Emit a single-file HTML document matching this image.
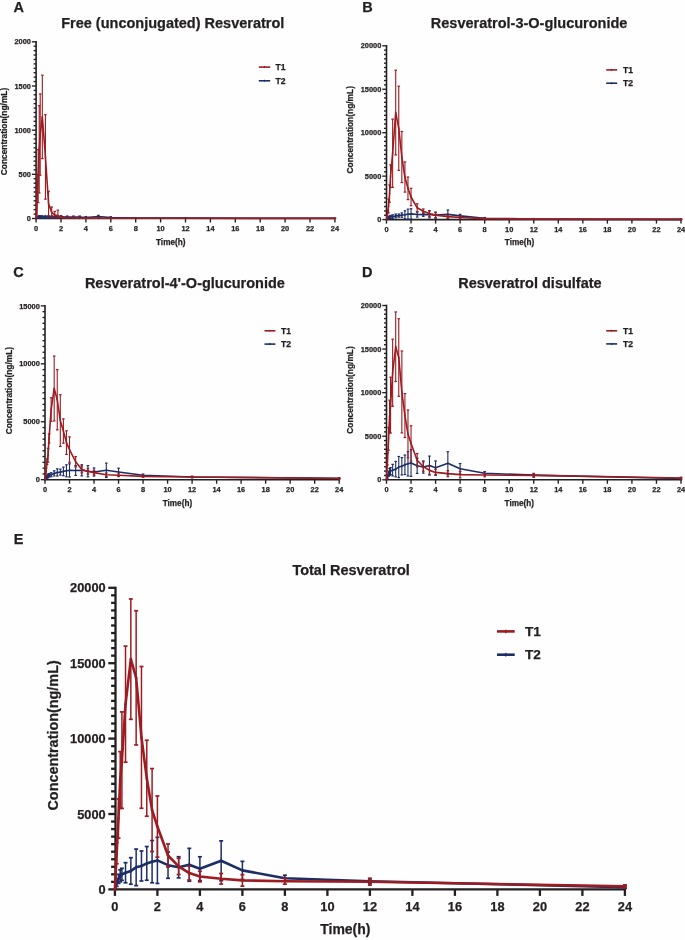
<!DOCTYPE html>
<html><head><meta charset="utf-8"><style>
html,body{margin:0;padding:0;background:#fefefe;}
svg{display:block;will-change:transform;filter:blur(0.35px);}
text{font-family:"Liberation Sans",sans-serif;font-weight:bold;fill:#231f20;stroke:#231f20;stroke-width:0.25px;}
</style></head><body>
<svg width="685" height="940" viewBox="0 0 685 940">
<line x1="36.10" y1="41.00" x2="36.10" y2="219.30" stroke="#231f20" stroke-width="1.6"/>
<line x1="35.30" y1="218.50" x2="335.70" y2="218.50" stroke="#231f20" stroke-width="1.6"/>
<line x1="31.90" y1="218.50" x2="36.10" y2="218.50" stroke="#231f20" stroke-width="1.35"/>
<text x="30.90" y="221.10" text-anchor="end" font-size="7.4">0</text>
<line x1="33.60" y1="214.08" x2="36.10" y2="214.08" stroke="#231f20" stroke-width="1.35"/>
<line x1="33.60" y1="209.66" x2="36.10" y2="209.66" stroke="#231f20" stroke-width="1.35"/>
<line x1="33.60" y1="205.25" x2="36.10" y2="205.25" stroke="#231f20" stroke-width="1.35"/>
<line x1="33.60" y1="200.83" x2="36.10" y2="200.83" stroke="#231f20" stroke-width="1.35"/>
<line x1="33.60" y1="196.41" x2="36.10" y2="196.41" stroke="#231f20" stroke-width="1.35"/>
<line x1="33.60" y1="192.00" x2="36.10" y2="192.00" stroke="#231f20" stroke-width="1.35"/>
<line x1="33.60" y1="187.58" x2="36.10" y2="187.58" stroke="#231f20" stroke-width="1.35"/>
<line x1="33.60" y1="183.16" x2="36.10" y2="183.16" stroke="#231f20" stroke-width="1.35"/>
<line x1="33.60" y1="178.74" x2="36.10" y2="178.74" stroke="#231f20" stroke-width="1.35"/>
<line x1="31.90" y1="174.32" x2="36.10" y2="174.32" stroke="#231f20" stroke-width="1.35"/>
<text x="30.90" y="176.92" text-anchor="end" font-size="7.4">500</text>
<line x1="33.60" y1="169.91" x2="36.10" y2="169.91" stroke="#231f20" stroke-width="1.35"/>
<line x1="33.60" y1="165.49" x2="36.10" y2="165.49" stroke="#231f20" stroke-width="1.35"/>
<line x1="33.60" y1="161.07" x2="36.10" y2="161.07" stroke="#231f20" stroke-width="1.35"/>
<line x1="33.60" y1="156.66" x2="36.10" y2="156.66" stroke="#231f20" stroke-width="1.35"/>
<line x1="33.60" y1="152.24" x2="36.10" y2="152.24" stroke="#231f20" stroke-width="1.35"/>
<line x1="33.60" y1="147.82" x2="36.10" y2="147.82" stroke="#231f20" stroke-width="1.35"/>
<line x1="33.60" y1="143.40" x2="36.10" y2="143.40" stroke="#231f20" stroke-width="1.35"/>
<line x1="33.60" y1="138.99" x2="36.10" y2="138.99" stroke="#231f20" stroke-width="1.35"/>
<line x1="33.60" y1="134.57" x2="36.10" y2="134.57" stroke="#231f20" stroke-width="1.35"/>
<line x1="31.90" y1="130.15" x2="36.10" y2="130.15" stroke="#231f20" stroke-width="1.35"/>
<text x="30.90" y="132.75" text-anchor="end" font-size="7.4">1000</text>
<line x1="33.60" y1="125.73" x2="36.10" y2="125.73" stroke="#231f20" stroke-width="1.35"/>
<line x1="33.60" y1="121.31" x2="36.10" y2="121.31" stroke="#231f20" stroke-width="1.35"/>
<line x1="33.60" y1="116.90" x2="36.10" y2="116.90" stroke="#231f20" stroke-width="1.35"/>
<line x1="33.60" y1="112.48" x2="36.10" y2="112.48" stroke="#231f20" stroke-width="1.35"/>
<line x1="33.60" y1="108.06" x2="36.10" y2="108.06" stroke="#231f20" stroke-width="1.35"/>
<line x1="33.60" y1="103.64" x2="36.10" y2="103.64" stroke="#231f20" stroke-width="1.35"/>
<line x1="33.60" y1="99.23" x2="36.10" y2="99.23" stroke="#231f20" stroke-width="1.35"/>
<line x1="33.60" y1="94.81" x2="36.10" y2="94.81" stroke="#231f20" stroke-width="1.35"/>
<line x1="33.60" y1="90.39" x2="36.10" y2="90.39" stroke="#231f20" stroke-width="1.35"/>
<line x1="31.90" y1="85.97" x2="36.10" y2="85.97" stroke="#231f20" stroke-width="1.35"/>
<text x="30.90" y="88.57" text-anchor="end" font-size="7.4">1500</text>
<line x1="33.60" y1="81.56" x2="36.10" y2="81.56" stroke="#231f20" stroke-width="1.35"/>
<line x1="33.60" y1="77.14" x2="36.10" y2="77.14" stroke="#231f20" stroke-width="1.35"/>
<line x1="33.60" y1="72.72" x2="36.10" y2="72.72" stroke="#231f20" stroke-width="1.35"/>
<line x1="33.60" y1="68.31" x2="36.10" y2="68.31" stroke="#231f20" stroke-width="1.35"/>
<line x1="33.60" y1="63.89" x2="36.10" y2="63.89" stroke="#231f20" stroke-width="1.35"/>
<line x1="33.60" y1="59.47" x2="36.10" y2="59.47" stroke="#231f20" stroke-width="1.35"/>
<line x1="33.60" y1="55.05" x2="36.10" y2="55.05" stroke="#231f20" stroke-width="1.35"/>
<line x1="33.60" y1="50.63" x2="36.10" y2="50.63" stroke="#231f20" stroke-width="1.35"/>
<line x1="33.60" y1="46.22" x2="36.10" y2="46.22" stroke="#231f20" stroke-width="1.35"/>
<line x1="31.90" y1="41.80" x2="36.10" y2="41.80" stroke="#231f20" stroke-width="1.35"/>
<text x="30.90" y="44.40" text-anchor="end" font-size="7.4">2000</text>
<line x1="36.10" y1="218.50" x2="36.10" y2="222.50" stroke="#231f20" stroke-width="1.35"/>
<text x="36.10" y="231.10" text-anchor="middle" font-size="7.4">0</text>
<line x1="61.00" y1="218.50" x2="61.00" y2="222.50" stroke="#231f20" stroke-width="1.35"/>
<text x="61.00" y="231.10" text-anchor="middle" font-size="7.4">2</text>
<line x1="85.90" y1="218.50" x2="85.90" y2="222.50" stroke="#231f20" stroke-width="1.35"/>
<text x="85.90" y="231.10" text-anchor="middle" font-size="7.4">4</text>
<line x1="110.80" y1="218.50" x2="110.80" y2="222.50" stroke="#231f20" stroke-width="1.35"/>
<text x="110.80" y="231.10" text-anchor="middle" font-size="7.4">6</text>
<line x1="135.70" y1="218.50" x2="135.70" y2="222.50" stroke="#231f20" stroke-width="1.35"/>
<text x="135.70" y="231.10" text-anchor="middle" font-size="7.4">8</text>
<line x1="160.60" y1="218.50" x2="160.60" y2="222.50" stroke="#231f20" stroke-width="1.35"/>
<text x="160.60" y="231.10" text-anchor="middle" font-size="7.4">10</text>
<line x1="185.50" y1="218.50" x2="185.50" y2="222.50" stroke="#231f20" stroke-width="1.35"/>
<text x="185.50" y="231.10" text-anchor="middle" font-size="7.4">12</text>
<line x1="210.40" y1="218.50" x2="210.40" y2="222.50" stroke="#231f20" stroke-width="1.35"/>
<text x="210.40" y="231.10" text-anchor="middle" font-size="7.4">14</text>
<line x1="235.30" y1="218.50" x2="235.30" y2="222.50" stroke="#231f20" stroke-width="1.35"/>
<text x="235.30" y="231.10" text-anchor="middle" font-size="7.4">16</text>
<line x1="260.20" y1="218.50" x2="260.20" y2="222.50" stroke="#231f20" stroke-width="1.35"/>
<text x="260.20" y="231.10" text-anchor="middle" font-size="7.4">18</text>
<line x1="285.10" y1="218.50" x2="285.10" y2="222.50" stroke="#231f20" stroke-width="1.35"/>
<text x="285.10" y="231.10" text-anchor="middle" font-size="7.4">20</text>
<line x1="310.00" y1="218.50" x2="310.00" y2="222.50" stroke="#231f20" stroke-width="1.35"/>
<text x="310.00" y="231.10" text-anchor="middle" font-size="7.4">22</text>
<line x1="334.90" y1="218.50" x2="334.90" y2="222.50" stroke="#231f20" stroke-width="1.35"/>
<text x="334.90" y="231.10" text-anchor="middle" font-size="7.4">24</text>
<line x1="37.13" y1="216.91" x2="37.13" y2="218.32" stroke="#1d2d66" stroke-width="1.1"/>
<line x1="35.83" y1="216.91" x2="38.43" y2="216.91" stroke="#1d2d66" stroke-width="1.2"/>
<line x1="35.83" y1="218.32" x2="38.43" y2="218.32" stroke="#1d2d66" stroke-width="1.2"/>
<line x1="38.18" y1="216.29" x2="38.18" y2="218.06" stroke="#1d2d66" stroke-width="1.1"/>
<line x1="36.88" y1="216.29" x2="39.48" y2="216.29" stroke="#1d2d66" stroke-width="1.2"/>
<line x1="36.88" y1="218.06" x2="39.48" y2="218.06" stroke="#1d2d66" stroke-width="1.2"/>
<line x1="39.21" y1="215.76" x2="39.21" y2="218.06" stroke="#1d2d66" stroke-width="1.1"/>
<line x1="37.91" y1="215.76" x2="40.51" y2="215.76" stroke="#1d2d66" stroke-width="1.2"/>
<line x1="37.91" y1="218.06" x2="40.51" y2="218.06" stroke="#1d2d66" stroke-width="1.2"/>
<line x1="40.21" y1="215.76" x2="40.21" y2="218.06" stroke="#1d2d66" stroke-width="1.1"/>
<line x1="38.91" y1="215.76" x2="41.51" y2="215.76" stroke="#1d2d66" stroke-width="1.2"/>
<line x1="38.91" y1="218.06" x2="41.51" y2="218.06" stroke="#1d2d66" stroke-width="1.2"/>
<line x1="42.33" y1="215.76" x2="42.33" y2="218.06" stroke="#1d2d66" stroke-width="1.1"/>
<line x1="41.03" y1="215.76" x2="43.62" y2="215.76" stroke="#1d2d66" stroke-width="1.2"/>
<line x1="41.03" y1="218.06" x2="43.62" y2="218.06" stroke="#1d2d66" stroke-width="1.2"/>
<line x1="45.44" y1="215.76" x2="45.44" y2="218.06" stroke="#1d2d66" stroke-width="1.1"/>
<line x1="44.14" y1="215.76" x2="46.74" y2="215.76" stroke="#1d2d66" stroke-width="1.2"/>
<line x1="44.14" y1="218.06" x2="46.74" y2="218.06" stroke="#1d2d66" stroke-width="1.2"/>
<line x1="48.55" y1="215.76" x2="48.55" y2="218.06" stroke="#1d2d66" stroke-width="1.1"/>
<line x1="47.25" y1="215.76" x2="49.85" y2="215.76" stroke="#1d2d66" stroke-width="1.2"/>
<line x1="47.25" y1="218.06" x2="49.85" y2="218.06" stroke="#1d2d66" stroke-width="1.2"/>
<line x1="51.66" y1="215.76" x2="51.66" y2="218.06" stroke="#1d2d66" stroke-width="1.1"/>
<line x1="50.36" y1="215.76" x2="52.96" y2="215.76" stroke="#1d2d66" stroke-width="1.2"/>
<line x1="50.36" y1="218.06" x2="52.96" y2="218.06" stroke="#1d2d66" stroke-width="1.2"/>
<line x1="54.77" y1="215.76" x2="54.77" y2="218.06" stroke="#1d2d66" stroke-width="1.1"/>
<line x1="53.48" y1="215.76" x2="56.07" y2="215.76" stroke="#1d2d66" stroke-width="1.2"/>
<line x1="53.48" y1="218.06" x2="56.07" y2="218.06" stroke="#1d2d66" stroke-width="1.2"/>
<line x1="57.89" y1="215.76" x2="57.89" y2="218.06" stroke="#1d2d66" stroke-width="1.1"/>
<line x1="56.59" y1="215.76" x2="59.19" y2="215.76" stroke="#1d2d66" stroke-width="1.2"/>
<line x1="56.59" y1="218.06" x2="59.19" y2="218.06" stroke="#1d2d66" stroke-width="1.2"/>
<line x1="61.00" y1="215.76" x2="61.00" y2="218.06" stroke="#1d2d66" stroke-width="1.1"/>
<line x1="59.70" y1="215.76" x2="62.30" y2="215.76" stroke="#1d2d66" stroke-width="1.2"/>
<line x1="59.70" y1="218.06" x2="62.30" y2="218.06" stroke="#1d2d66" stroke-width="1.2"/>
<line x1="67.22" y1="216.03" x2="67.22" y2="218.15" stroke="#1d2d66" stroke-width="1.1"/>
<line x1="65.92" y1="216.03" x2="68.52" y2="216.03" stroke="#1d2d66" stroke-width="1.2"/>
<line x1="65.92" y1="218.15" x2="68.52" y2="218.15" stroke="#1d2d66" stroke-width="1.2"/>
<line x1="73.45" y1="216.03" x2="73.45" y2="218.15" stroke="#1d2d66" stroke-width="1.1"/>
<line x1="72.15" y1="216.03" x2="74.75" y2="216.03" stroke="#1d2d66" stroke-width="1.2"/>
<line x1="72.15" y1="218.15" x2="74.75" y2="218.15" stroke="#1d2d66" stroke-width="1.2"/>
<line x1="79.67" y1="216.03" x2="79.67" y2="218.15" stroke="#1d2d66" stroke-width="1.1"/>
<line x1="78.37" y1="216.03" x2="80.97" y2="216.03" stroke="#1d2d66" stroke-width="1.2"/>
<line x1="78.37" y1="218.15" x2="80.97" y2="218.15" stroke="#1d2d66" stroke-width="1.2"/>
<line x1="85.90" y1="216.56" x2="85.90" y2="218.32" stroke="#1d2d66" stroke-width="1.1"/>
<line x1="84.60" y1="216.56" x2="87.20" y2="216.56" stroke="#1d2d66" stroke-width="1.2"/>
<line x1="84.60" y1="218.32" x2="87.20" y2="218.32" stroke="#1d2d66" stroke-width="1.2"/>
<line x1="98.35" y1="215.32" x2="98.35" y2="217.79" stroke="#1d2d66" stroke-width="1.1"/>
<line x1="97.05" y1="215.32" x2="99.65" y2="215.32" stroke="#1d2d66" stroke-width="1.2"/>
<line x1="97.05" y1="217.79" x2="99.65" y2="217.79" stroke="#1d2d66" stroke-width="1.2"/>
<line x1="110.80" y1="216.73" x2="110.80" y2="218.15" stroke="#1d2d66" stroke-width="1.1"/>
<line x1="109.50" y1="216.73" x2="112.10" y2="216.73" stroke="#1d2d66" stroke-width="1.2"/>
<line x1="109.50" y1="218.15" x2="112.10" y2="218.15" stroke="#1d2d66" stroke-width="1.2"/>
<line x1="135.70" y1="217.62" x2="135.70" y2="218.32" stroke="#1d2d66" stroke-width="1.1"/>
<line x1="134.40" y1="217.62" x2="137.00" y2="217.62" stroke="#1d2d66" stroke-width="1.2"/>
<line x1="134.40" y1="218.32" x2="137.00" y2="218.32" stroke="#1d2d66" stroke-width="1.2"/>
<line x1="185.50" y1="217.88" x2="185.50" y2="218.41" stroke="#1d2d66" stroke-width="1.1"/>
<line x1="184.20" y1="217.88" x2="186.80" y2="217.88" stroke="#1d2d66" stroke-width="1.2"/>
<line x1="184.20" y1="218.41" x2="186.80" y2="218.41" stroke="#1d2d66" stroke-width="1.2"/>
<line x1="334.90" y1="218.15" x2="334.90" y2="218.50" stroke="#1d2d66" stroke-width="1.1"/>
<line x1="333.60" y1="218.15" x2="336.20" y2="218.15" stroke="#1d2d66" stroke-width="1.2"/>
<polyline points="36.10,218.50 37.13,217.62 38.18,217.17 39.21,216.91 40.21,216.91 42.33,216.91 45.44,216.91 48.55,216.91 51.66,216.91 54.77,216.91 57.89,216.91 61.00,216.91 67.22,217.09 73.45,217.09 79.67,217.09 85.90,217.44 98.35,216.56 110.80,217.44 135.70,217.97 185.50,218.15 334.90,218.32" fill="none" stroke="#1d2d66" stroke-width="1.6" stroke-linejoin="round"/>
<path d="M36.10,217.24L36.98,218.50L36.10,219.76L35.22,218.50Z" fill="#1d2d66"/>
<path d="M37.13,216.35L38.01,217.62L37.13,218.88L36.25,217.62Z" fill="#1d2d66"/>
<path d="M38.18,215.91L39.06,217.17L38.18,218.44L37.30,217.17Z" fill="#1d2d66"/>
<path d="M39.21,215.64L40.09,216.91L39.21,218.17L38.33,216.91Z" fill="#1d2d66"/>
<path d="M40.21,215.64L41.09,216.91L40.21,218.17L39.33,216.91Z" fill="#1d2d66"/>
<path d="M42.33,215.64L43.21,216.91L42.33,218.17L41.45,216.91Z" fill="#1d2d66"/>
<path d="M45.44,215.64L46.32,216.91L45.44,218.17L44.56,216.91Z" fill="#1d2d66"/>
<path d="M48.55,215.64L49.43,216.91L48.55,218.17L47.67,216.91Z" fill="#1d2d66"/>
<path d="M51.66,215.64L52.54,216.91L51.66,218.17L50.78,216.91Z" fill="#1d2d66"/>
<path d="M54.77,215.64L55.66,216.91L54.77,218.17L53.89,216.91Z" fill="#1d2d66"/>
<path d="M57.89,215.64L58.77,216.91L57.89,218.17L57.01,216.91Z" fill="#1d2d66"/>
<path d="M61.00,215.64L61.88,216.91L61.00,218.17L60.12,216.91Z" fill="#1d2d66"/>
<path d="M67.22,215.82L68.10,217.09L67.22,218.35L66.34,217.09Z" fill="#1d2d66"/>
<path d="M73.45,215.82L74.33,217.09L73.45,218.35L72.57,217.09Z" fill="#1d2d66"/>
<path d="M79.67,215.82L80.55,217.09L79.67,218.35L78.79,217.09Z" fill="#1d2d66"/>
<path d="M85.90,216.17L86.78,217.44L85.90,218.70L85.02,217.44Z" fill="#1d2d66"/>
<path d="M98.35,215.29L99.23,216.56L98.35,217.82L97.47,216.56Z" fill="#1d2d66"/>
<path d="M110.80,216.17L111.68,217.44L110.80,218.70L109.92,217.44Z" fill="#1d2d66"/>
<path d="M135.70,216.70L136.58,217.97L135.70,219.23L134.82,217.97Z" fill="#1d2d66"/>
<path d="M185.50,216.88L186.38,218.15L185.50,219.41L184.62,218.15Z" fill="#1d2d66"/>
<path d="M334.90,217.06L335.78,218.32L334.90,219.59L334.02,218.32Z" fill="#1d2d66"/>
<line x1="37.13" y1="174.32" x2="37.13" y2="218.50" stroke="#9c1c22" stroke-width="1.1"/>
<line x1="35.83" y1="174.32" x2="38.43" y2="174.32" stroke="#9c1c22" stroke-width="1.2"/>
<line x1="38.18" y1="149.59" x2="38.18" y2="202.60" stroke="#9c1c22" stroke-width="1.1"/>
<line x1="36.88" y1="149.59" x2="39.48" y2="149.59" stroke="#9c1c22" stroke-width="1.2"/>
<line x1="36.88" y1="202.60" x2="39.48" y2="202.60" stroke="#9c1c22" stroke-width="1.2"/>
<line x1="39.21" y1="105.68" x2="39.21" y2="192.97" stroke="#9c1c22" stroke-width="1.1"/>
<line x1="37.91" y1="105.68" x2="40.51" y2="105.68" stroke="#9c1c22" stroke-width="1.2"/>
<line x1="37.91" y1="192.97" x2="40.51" y2="192.97" stroke="#9c1c22" stroke-width="1.2"/>
<line x1="40.21" y1="93.93" x2="40.21" y2="175.21" stroke="#9c1c22" stroke-width="1.1"/>
<line x1="38.91" y1="93.93" x2="41.51" y2="93.93" stroke="#9c1c22" stroke-width="1.2"/>
<line x1="38.91" y1="175.21" x2="41.51" y2="175.21" stroke="#9c1c22" stroke-width="1.2"/>
<line x1="42.33" y1="75.20" x2="42.33" y2="158.60" stroke="#9c1c22" stroke-width="1.1"/>
<line x1="41.03" y1="75.20" x2="43.62" y2="75.20" stroke="#9c1c22" stroke-width="1.2"/>
<line x1="41.03" y1="158.60" x2="43.62" y2="158.60" stroke="#9c1c22" stroke-width="1.2"/>
<line x1="45.44" y1="114.69" x2="45.44" y2="199.15" stroke="#9c1c22" stroke-width="1.1"/>
<line x1="44.14" y1="114.69" x2="46.74" y2="114.69" stroke="#9c1c22" stroke-width="1.2"/>
<line x1="44.14" y1="199.15" x2="46.74" y2="199.15" stroke="#9c1c22" stroke-width="1.2"/>
<line x1="48.55" y1="191.29" x2="48.55" y2="216.03" stroke="#9c1c22" stroke-width="1.1"/>
<line x1="47.25" y1="191.29" x2="49.85" y2="191.29" stroke="#9c1c22" stroke-width="1.2"/>
<line x1="47.25" y1="216.03" x2="49.85" y2="216.03" stroke="#9c1c22" stroke-width="1.2"/>
<line x1="51.66" y1="207.01" x2="51.66" y2="217.62" stroke="#9c1c22" stroke-width="1.1"/>
<line x1="50.36" y1="207.01" x2="52.96" y2="207.01" stroke="#9c1c22" stroke-width="1.2"/>
<line x1="50.36" y1="217.62" x2="52.96" y2="217.62" stroke="#9c1c22" stroke-width="1.2"/>
<line x1="54.77" y1="211.43" x2="54.77" y2="218.50" stroke="#9c1c22" stroke-width="1.1"/>
<line x1="53.48" y1="211.43" x2="56.07" y2="211.43" stroke="#9c1c22" stroke-width="1.2"/>
<line x1="57.89" y1="210.11" x2="57.89" y2="218.50" stroke="#9c1c22" stroke-width="1.1"/>
<line x1="56.59" y1="210.11" x2="59.19" y2="210.11" stroke="#9c1c22" stroke-width="1.2"/>
<line x1="61.00" y1="215.85" x2="61.00" y2="218.50" stroke="#9c1c22" stroke-width="1.1"/>
<line x1="59.70" y1="215.85" x2="62.30" y2="215.85" stroke="#9c1c22" stroke-width="1.2"/>
<line x1="67.22" y1="217.44" x2="67.22" y2="218.50" stroke="#9c1c22" stroke-width="1.1"/>
<line x1="65.92" y1="217.44" x2="68.52" y2="217.44" stroke="#9c1c22" stroke-width="1.2"/>
<line x1="73.45" y1="217.62" x2="73.45" y2="218.50" stroke="#9c1c22" stroke-width="1.1"/>
<line x1="72.15" y1="217.62" x2="74.75" y2="217.62" stroke="#9c1c22" stroke-width="1.2"/>
<line x1="79.67" y1="217.79" x2="79.67" y2="218.50" stroke="#9c1c22" stroke-width="1.1"/>
<line x1="78.37" y1="217.79" x2="80.97" y2="217.79" stroke="#9c1c22" stroke-width="1.2"/>
<line x1="85.90" y1="217.79" x2="85.90" y2="218.50" stroke="#9c1c22" stroke-width="1.1"/>
<line x1="84.60" y1="217.79" x2="87.20" y2="217.79" stroke="#9c1c22" stroke-width="1.2"/>
<line x1="98.35" y1="217.79" x2="98.35" y2="218.50" stroke="#9c1c22" stroke-width="1.1"/>
<line x1="97.05" y1="217.79" x2="99.65" y2="217.79" stroke="#9c1c22" stroke-width="1.2"/>
<line x1="110.80" y1="217.97" x2="110.80" y2="218.50" stroke="#9c1c22" stroke-width="1.1"/>
<line x1="109.50" y1="217.97" x2="112.10" y2="217.97" stroke="#9c1c22" stroke-width="1.2"/>
<line x1="135.70" y1="218.15" x2="135.70" y2="218.50" stroke="#9c1c22" stroke-width="1.1"/>
<line x1="134.40" y1="218.15" x2="137.00" y2="218.15" stroke="#9c1c22" stroke-width="1.2"/>
<line x1="185.50" y1="218.15" x2="185.50" y2="218.50" stroke="#9c1c22" stroke-width="1.1"/>
<line x1="184.20" y1="218.15" x2="186.80" y2="218.15" stroke="#9c1c22" stroke-width="1.2"/>
<line x1="334.90" y1="218.32" x2="334.90" y2="218.50" stroke="#9c1c22" stroke-width="1.1"/>
<line x1="333.60" y1="218.32" x2="336.20" y2="218.32" stroke="#9c1c22" stroke-width="1.2"/>
<polyline points="36.10,218.50 37.13,196.41 38.18,176.09 39.21,149.32 40.21,134.57 42.33,116.90 45.44,156.92 48.55,203.66 51.66,212.32 54.77,214.97 57.89,215.85 61.00,217.62 67.22,217.97 73.45,218.06 79.67,218.15 85.90,218.15 98.35,218.15 110.80,218.23 135.70,218.32 185.50,218.32 334.90,218.41" fill="none" stroke="#9c1c22" stroke-width="1.6" stroke-linejoin="round"/>
<path d="M36.10,217.24L36.98,218.50L36.10,219.76L35.22,218.50Z" fill="#9c1c22"/>
<path d="M37.13,195.15L38.01,196.41L37.13,197.68L36.25,196.41Z" fill="#9c1c22"/>
<path d="M38.18,174.83L39.06,176.09L38.18,177.36L37.30,176.09Z" fill="#9c1c22"/>
<path d="M39.21,148.06L40.09,149.32L39.21,150.59L38.33,149.32Z" fill="#9c1c22"/>
<path d="M40.21,133.30L41.09,134.57L40.21,135.83L39.33,134.57Z" fill="#9c1c22"/>
<path d="M42.33,115.63L43.21,116.90L42.33,118.16L41.45,116.90Z" fill="#9c1c22"/>
<path d="M45.44,155.66L46.32,156.92L45.44,158.19L44.56,156.92Z" fill="#9c1c22"/>
<path d="M48.55,202.39L49.43,203.66L48.55,204.92L47.67,203.66Z" fill="#9c1c22"/>
<path d="M51.66,211.05L52.54,212.32L51.66,213.58L50.78,212.32Z" fill="#9c1c22"/>
<path d="M54.77,213.70L55.66,214.97L54.77,216.23L53.89,214.97Z" fill="#9c1c22"/>
<path d="M57.89,214.58L58.77,215.85L57.89,217.11L57.01,215.85Z" fill="#9c1c22"/>
<path d="M61.00,216.35L61.88,217.62L61.00,218.88L60.12,217.62Z" fill="#9c1c22"/>
<path d="M67.22,216.70L68.10,217.97L67.22,219.23L66.34,217.97Z" fill="#9c1c22"/>
<path d="M73.45,216.79L74.33,218.06L73.45,219.32L72.57,218.06Z" fill="#9c1c22"/>
<path d="M79.67,216.88L80.55,218.15L79.67,219.41L78.79,218.15Z" fill="#9c1c22"/>
<path d="M85.90,216.88L86.78,218.15L85.90,219.41L85.02,218.15Z" fill="#9c1c22"/>
<path d="M98.35,216.88L99.23,218.15L98.35,219.41L97.47,218.15Z" fill="#9c1c22"/>
<path d="M110.80,216.97L111.68,218.23L110.80,219.50L109.92,218.23Z" fill="#9c1c22"/>
<path d="M135.70,217.06L136.58,218.32L135.70,219.59L134.82,218.32Z" fill="#9c1c22"/>
<path d="M185.50,217.06L186.38,218.32L185.50,219.59L184.62,218.32Z" fill="#9c1c22"/>
<path d="M334.90,217.15L335.78,218.41L334.90,219.68L334.02,218.41Z" fill="#9c1c22"/>
<line x1="258.8" y1="67.1" x2="270.2" y2="67.1" stroke="#9c1c22" stroke-width="1.6"/>
<path d="M264.50,65.83L265.38,67.10L264.50,68.36L263.62,67.10Z" fill="#9c1c22"/>
<text x="275.5" y="70.2" font-size="8.6">T1</text>
<line x1="258.8" y1="80.8" x2="270.2" y2="80.8" stroke="#1d2d66" stroke-width="1.6"/>
<path d="M264.50,79.53L265.38,80.80L264.50,82.06L263.62,80.80Z" fill="#1d2d66"/>
<text x="275.5" y="84.0" font-size="8.6">T2</text>
<text x="61.2" y="27.8" font-size="14.5">Free (unconjugated) Resveratrol</text>
<text x="13.5" y="12.2" font-size="14.5">A</text>
<text x="156.0" y="244.8" font-size="8.2">Time(h)</text>
<text transform="translate(7.2,131.5) rotate(-90)" text-anchor="middle" font-size="8.4">Concentration(ng/mL)</text>
<line x1="386.50" y1="45.00" x2="386.50" y2="220.40" stroke="#231f20" stroke-width="1.6"/>
<line x1="385.70" y1="219.60" x2="681.80" y2="219.60" stroke="#231f20" stroke-width="1.6"/>
<line x1="382.30" y1="219.60" x2="386.50" y2="219.60" stroke="#231f20" stroke-width="1.35"/>
<text x="381.30" y="222.20" text-anchor="end" font-size="7.4">0</text>
<line x1="384.00" y1="215.25" x2="386.50" y2="215.25" stroke="#231f20" stroke-width="1.35"/>
<line x1="384.00" y1="210.91" x2="386.50" y2="210.91" stroke="#231f20" stroke-width="1.35"/>
<line x1="384.00" y1="206.56" x2="386.50" y2="206.56" stroke="#231f20" stroke-width="1.35"/>
<line x1="384.00" y1="202.22" x2="386.50" y2="202.22" stroke="#231f20" stroke-width="1.35"/>
<line x1="384.00" y1="197.88" x2="386.50" y2="197.88" stroke="#231f20" stroke-width="1.35"/>
<line x1="384.00" y1="193.53" x2="386.50" y2="193.53" stroke="#231f20" stroke-width="1.35"/>
<line x1="384.00" y1="189.19" x2="386.50" y2="189.19" stroke="#231f20" stroke-width="1.35"/>
<line x1="384.00" y1="184.84" x2="386.50" y2="184.84" stroke="#231f20" stroke-width="1.35"/>
<line x1="384.00" y1="180.50" x2="386.50" y2="180.50" stroke="#231f20" stroke-width="1.35"/>
<line x1="382.30" y1="176.15" x2="386.50" y2="176.15" stroke="#231f20" stroke-width="1.35"/>
<text x="381.30" y="178.75" text-anchor="end" font-size="7.4">5000</text>
<line x1="384.00" y1="171.81" x2="386.50" y2="171.81" stroke="#231f20" stroke-width="1.35"/>
<line x1="384.00" y1="167.46" x2="386.50" y2="167.46" stroke="#231f20" stroke-width="1.35"/>
<line x1="384.00" y1="163.12" x2="386.50" y2="163.12" stroke="#231f20" stroke-width="1.35"/>
<line x1="384.00" y1="158.77" x2="386.50" y2="158.77" stroke="#231f20" stroke-width="1.35"/>
<line x1="384.00" y1="154.43" x2="386.50" y2="154.43" stroke="#231f20" stroke-width="1.35"/>
<line x1="384.00" y1="150.08" x2="386.50" y2="150.08" stroke="#231f20" stroke-width="1.35"/>
<line x1="384.00" y1="145.74" x2="386.50" y2="145.74" stroke="#231f20" stroke-width="1.35"/>
<line x1="384.00" y1="141.39" x2="386.50" y2="141.39" stroke="#231f20" stroke-width="1.35"/>
<line x1="384.00" y1="137.05" x2="386.50" y2="137.05" stroke="#231f20" stroke-width="1.35"/>
<line x1="382.30" y1="132.70" x2="386.50" y2="132.70" stroke="#231f20" stroke-width="1.35"/>
<text x="381.30" y="135.30" text-anchor="end" font-size="7.4">10000</text>
<line x1="384.00" y1="128.35" x2="386.50" y2="128.35" stroke="#231f20" stroke-width="1.35"/>
<line x1="384.00" y1="124.01" x2="386.50" y2="124.01" stroke="#231f20" stroke-width="1.35"/>
<line x1="384.00" y1="119.66" x2="386.50" y2="119.66" stroke="#231f20" stroke-width="1.35"/>
<line x1="384.00" y1="115.32" x2="386.50" y2="115.32" stroke="#231f20" stroke-width="1.35"/>
<line x1="384.00" y1="110.97" x2="386.50" y2="110.97" stroke="#231f20" stroke-width="1.35"/>
<line x1="384.00" y1="106.63" x2="386.50" y2="106.63" stroke="#231f20" stroke-width="1.35"/>
<line x1="384.00" y1="102.28" x2="386.50" y2="102.28" stroke="#231f20" stroke-width="1.35"/>
<line x1="384.00" y1="97.94" x2="386.50" y2="97.94" stroke="#231f20" stroke-width="1.35"/>
<line x1="384.00" y1="93.59" x2="386.50" y2="93.59" stroke="#231f20" stroke-width="1.35"/>
<line x1="382.30" y1="89.25" x2="386.50" y2="89.25" stroke="#231f20" stroke-width="1.35"/>
<text x="381.30" y="91.85" text-anchor="end" font-size="7.4">15000</text>
<line x1="384.00" y1="84.91" x2="386.50" y2="84.91" stroke="#231f20" stroke-width="1.35"/>
<line x1="384.00" y1="80.56" x2="386.50" y2="80.56" stroke="#231f20" stroke-width="1.35"/>
<line x1="384.00" y1="76.22" x2="386.50" y2="76.22" stroke="#231f20" stroke-width="1.35"/>
<line x1="384.00" y1="71.87" x2="386.50" y2="71.87" stroke="#231f20" stroke-width="1.35"/>
<line x1="384.00" y1="67.53" x2="386.50" y2="67.53" stroke="#231f20" stroke-width="1.35"/>
<line x1="384.00" y1="63.18" x2="386.50" y2="63.18" stroke="#231f20" stroke-width="1.35"/>
<line x1="384.00" y1="58.84" x2="386.50" y2="58.84" stroke="#231f20" stroke-width="1.35"/>
<line x1="384.00" y1="54.49" x2="386.50" y2="54.49" stroke="#231f20" stroke-width="1.35"/>
<line x1="384.00" y1="50.15" x2="386.50" y2="50.15" stroke="#231f20" stroke-width="1.35"/>
<line x1="382.30" y1="45.80" x2="386.50" y2="45.80" stroke="#231f20" stroke-width="1.35"/>
<text x="381.30" y="48.40" text-anchor="end" font-size="7.4">20000</text>
<line x1="386.50" y1="219.60" x2="386.50" y2="223.60" stroke="#231f20" stroke-width="1.35"/>
<text x="386.50" y="231.80" text-anchor="middle" font-size="7.4">0</text>
<line x1="411.04" y1="219.60" x2="411.04" y2="223.60" stroke="#231f20" stroke-width="1.35"/>
<text x="411.04" y="231.80" text-anchor="middle" font-size="7.4">2</text>
<line x1="435.58" y1="219.60" x2="435.58" y2="223.60" stroke="#231f20" stroke-width="1.35"/>
<text x="435.58" y="231.80" text-anchor="middle" font-size="7.4">4</text>
<line x1="460.12" y1="219.60" x2="460.12" y2="223.60" stroke="#231f20" stroke-width="1.35"/>
<text x="460.12" y="231.80" text-anchor="middle" font-size="7.4">6</text>
<line x1="484.67" y1="219.60" x2="484.67" y2="223.60" stroke="#231f20" stroke-width="1.35"/>
<text x="484.67" y="231.80" text-anchor="middle" font-size="7.4">8</text>
<line x1="509.21" y1="219.60" x2="509.21" y2="223.60" stroke="#231f20" stroke-width="1.35"/>
<text x="509.21" y="231.80" text-anchor="middle" font-size="7.4">10</text>
<line x1="533.75" y1="219.60" x2="533.75" y2="223.60" stroke="#231f20" stroke-width="1.35"/>
<text x="533.75" y="231.80" text-anchor="middle" font-size="7.4">12</text>
<line x1="558.29" y1="219.60" x2="558.29" y2="223.60" stroke="#231f20" stroke-width="1.35"/>
<text x="558.29" y="231.80" text-anchor="middle" font-size="7.4">14</text>
<line x1="582.83" y1="219.60" x2="582.83" y2="223.60" stroke="#231f20" stroke-width="1.35"/>
<text x="582.83" y="231.80" text-anchor="middle" font-size="7.4">16</text>
<line x1="607.38" y1="219.60" x2="607.38" y2="223.60" stroke="#231f20" stroke-width="1.35"/>
<text x="607.38" y="231.80" text-anchor="middle" font-size="7.4">18</text>
<line x1="631.92" y1="219.60" x2="631.92" y2="223.60" stroke="#231f20" stroke-width="1.35"/>
<text x="631.92" y="231.80" text-anchor="middle" font-size="7.4">20</text>
<line x1="656.46" y1="219.60" x2="656.46" y2="223.60" stroke="#231f20" stroke-width="1.35"/>
<text x="656.46" y="231.80" text-anchor="middle" font-size="7.4">22</text>
<line x1="681.00" y1="219.60" x2="681.00" y2="223.60" stroke="#231f20" stroke-width="1.35"/>
<text x="681.00" y="231.80" text-anchor="middle" font-size="7.4">24</text>
<line x1="387.52" y1="217.60" x2="387.52" y2="218.99" stroke="#1d2d66" stroke-width="1.1"/>
<line x1="386.22" y1="217.60" x2="388.82" y2="217.60" stroke="#1d2d66" stroke-width="1.2"/>
<line x1="386.22" y1="218.99" x2="388.82" y2="218.99" stroke="#1d2d66" stroke-width="1.2"/>
<line x1="388.55" y1="216.65" x2="388.55" y2="218.73" stroke="#1d2d66" stroke-width="1.1"/>
<line x1="387.25" y1="216.65" x2="389.85" y2="216.65" stroke="#1d2d66" stroke-width="1.2"/>
<line x1="387.25" y1="218.73" x2="389.85" y2="218.73" stroke="#1d2d66" stroke-width="1.2"/>
<line x1="389.57" y1="216.00" x2="389.57" y2="218.61" stroke="#1d2d66" stroke-width="1.1"/>
<line x1="388.27" y1="216.00" x2="390.87" y2="216.00" stroke="#1d2d66" stroke-width="1.2"/>
<line x1="388.27" y1="218.61" x2="390.87" y2="218.61" stroke="#1d2d66" stroke-width="1.2"/>
<line x1="390.55" y1="215.43" x2="390.55" y2="218.56" stroke="#1d2d66" stroke-width="1.1"/>
<line x1="389.25" y1="215.43" x2="391.85" y2="215.43" stroke="#1d2d66" stroke-width="1.2"/>
<line x1="389.25" y1="218.56" x2="391.85" y2="218.56" stroke="#1d2d66" stroke-width="1.2"/>
<line x1="392.64" y1="214.86" x2="392.64" y2="218.34" stroke="#1d2d66" stroke-width="1.1"/>
<line x1="391.34" y1="214.86" x2="393.94" y2="214.86" stroke="#1d2d66" stroke-width="1.2"/>
<line x1="391.34" y1="218.34" x2="393.94" y2="218.34" stroke="#1d2d66" stroke-width="1.2"/>
<line x1="395.70" y1="214.04" x2="395.70" y2="217.78" stroke="#1d2d66" stroke-width="1.1"/>
<line x1="394.40" y1="214.04" x2="397.00" y2="214.04" stroke="#1d2d66" stroke-width="1.2"/>
<line x1="394.40" y1="217.78" x2="397.00" y2="217.78" stroke="#1d2d66" stroke-width="1.2"/>
<line x1="398.77" y1="214.04" x2="398.77" y2="217.17" stroke="#1d2d66" stroke-width="1.1"/>
<line x1="397.47" y1="214.04" x2="400.07" y2="214.04" stroke="#1d2d66" stroke-width="1.2"/>
<line x1="397.47" y1="217.17" x2="400.07" y2="217.17" stroke="#1d2d66" stroke-width="1.2"/>
<line x1="401.84" y1="212.93" x2="401.84" y2="217.28" stroke="#1d2d66" stroke-width="1.1"/>
<line x1="400.54" y1="212.93" x2="403.14" y2="212.93" stroke="#1d2d66" stroke-width="1.2"/>
<line x1="400.54" y1="217.28" x2="403.14" y2="217.28" stroke="#1d2d66" stroke-width="1.2"/>
<line x1="404.91" y1="210.82" x2="404.91" y2="218.82" stroke="#1d2d66" stroke-width="1.1"/>
<line x1="403.61" y1="210.82" x2="406.21" y2="210.82" stroke="#1d2d66" stroke-width="1.2"/>
<line x1="403.61" y1="218.82" x2="406.21" y2="218.82" stroke="#1d2d66" stroke-width="1.2"/>
<line x1="407.97" y1="209.17" x2="407.97" y2="219.25" stroke="#1d2d66" stroke-width="1.1"/>
<line x1="406.67" y1="209.17" x2="409.27" y2="209.17" stroke="#1d2d66" stroke-width="1.2"/>
<line x1="406.67" y1="219.25" x2="409.27" y2="219.25" stroke="#1d2d66" stroke-width="1.2"/>
<line x1="411.04" y1="208.74" x2="411.04" y2="219.08" stroke="#1d2d66" stroke-width="1.1"/>
<line x1="409.74" y1="208.74" x2="412.34" y2="208.74" stroke="#1d2d66" stroke-width="1.2"/>
<line x1="409.74" y1="219.08" x2="412.34" y2="219.08" stroke="#1d2d66" stroke-width="1.2"/>
<line x1="417.18" y1="211.90" x2="417.18" y2="217.11" stroke="#1d2d66" stroke-width="1.1"/>
<line x1="415.88" y1="211.90" x2="418.48" y2="211.90" stroke="#1d2d66" stroke-width="1.2"/>
<line x1="415.88" y1="217.11" x2="418.48" y2="217.11" stroke="#1d2d66" stroke-width="1.2"/>
<line x1="423.31" y1="212.87" x2="423.31" y2="216.34" stroke="#1d2d66" stroke-width="1.1"/>
<line x1="422.01" y1="212.87" x2="424.61" y2="212.87" stroke="#1d2d66" stroke-width="1.2"/>
<line x1="422.01" y1="216.34" x2="424.61" y2="216.34" stroke="#1d2d66" stroke-width="1.2"/>
<line x1="429.45" y1="210.91" x2="429.45" y2="217.86" stroke="#1d2d66" stroke-width="1.1"/>
<line x1="428.15" y1="210.91" x2="430.75" y2="210.91" stroke="#1d2d66" stroke-width="1.2"/>
<line x1="428.15" y1="217.86" x2="430.75" y2="217.86" stroke="#1d2d66" stroke-width="1.2"/>
<line x1="435.58" y1="212.07" x2="435.58" y2="218.15" stroke="#1d2d66" stroke-width="1.1"/>
<line x1="434.28" y1="212.07" x2="436.88" y2="212.07" stroke="#1d2d66" stroke-width="1.2"/>
<line x1="434.28" y1="218.15" x2="436.88" y2="218.15" stroke="#1d2d66" stroke-width="1.2"/>
<line x1="447.85" y1="210.04" x2="447.85" y2="218.73" stroke="#1d2d66" stroke-width="1.1"/>
<line x1="446.55" y1="210.04" x2="449.15" y2="210.04" stroke="#1d2d66" stroke-width="1.2"/>
<line x1="446.55" y1="218.73" x2="449.15" y2="218.73" stroke="#1d2d66" stroke-width="1.2"/>
<line x1="460.12" y1="214.39" x2="460.12" y2="217.43" stroke="#1d2d66" stroke-width="1.1"/>
<line x1="458.82" y1="214.39" x2="461.43" y2="214.39" stroke="#1d2d66" stroke-width="1.2"/>
<line x1="458.82" y1="217.43" x2="461.43" y2="217.43" stroke="#1d2d66" stroke-width="1.2"/>
<line x1="484.67" y1="217.51" x2="484.67" y2="218.90" stroke="#1d2d66" stroke-width="1.1"/>
<line x1="483.37" y1="217.51" x2="485.97" y2="217.51" stroke="#1d2d66" stroke-width="1.2"/>
<line x1="483.37" y1="218.90" x2="485.97" y2="218.90" stroke="#1d2d66" stroke-width="1.2"/>
<line x1="533.75" y1="218.73" x2="533.75" y2="219.43" stroke="#1d2d66" stroke-width="1.1"/>
<line x1="532.45" y1="218.73" x2="535.05" y2="218.73" stroke="#1d2d66" stroke-width="1.2"/>
<line x1="532.45" y1="219.43" x2="535.05" y2="219.43" stroke="#1d2d66" stroke-width="1.2"/>
<line x1="681.00" y1="219.17" x2="681.00" y2="219.51" stroke="#1d2d66" stroke-width="1.1"/>
<line x1="679.70" y1="219.17" x2="682.30" y2="219.17" stroke="#1d2d66" stroke-width="1.2"/>
<line x1="679.70" y1="219.51" x2="682.30" y2="219.51" stroke="#1d2d66" stroke-width="1.2"/>
<polyline points="386.50,219.60 387.52,218.30 388.55,217.69 389.57,217.31 390.55,216.99 392.64,216.60 395.70,215.91 398.77,215.60 401.84,215.11 404.91,214.82 407.97,214.21 411.04,213.91 417.18,214.51 423.31,214.60 429.45,214.39 435.58,215.11 447.85,214.39 460.12,215.91 484.67,218.21 533.75,219.08 681.00,219.34" fill="none" stroke="#1d2d66" stroke-width="1.6" stroke-linejoin="round"/>
<path d="M386.50,218.34L387.38,219.60L386.50,220.86L385.62,219.60Z" fill="#1d2d66"/>
<path d="M387.52,217.03L388.40,218.30L387.52,219.56L386.64,218.30Z" fill="#1d2d66"/>
<path d="M388.55,216.42L389.43,217.69L388.55,218.95L387.67,217.69Z" fill="#1d2d66"/>
<path d="M389.57,216.04L390.45,217.31L389.57,218.57L388.69,217.31Z" fill="#1d2d66"/>
<path d="M390.55,215.73L391.43,216.99L390.55,218.26L389.67,216.99Z" fill="#1d2d66"/>
<path d="M392.64,215.34L393.52,216.60L392.64,217.87L391.76,216.60Z" fill="#1d2d66"/>
<path d="M395.70,214.64L396.58,215.91L395.70,217.17L394.82,215.91Z" fill="#1d2d66"/>
<path d="M398.77,214.34L399.65,215.60L398.77,216.87L397.89,215.60Z" fill="#1d2d66"/>
<path d="M401.84,213.84L402.72,215.11L401.84,216.37L400.96,215.11Z" fill="#1d2d66"/>
<path d="M404.91,213.56L405.79,214.82L404.91,216.09L404.03,214.82Z" fill="#1d2d66"/>
<path d="M407.97,212.95L408.85,214.21L407.97,215.48L407.09,214.21Z" fill="#1d2d66"/>
<path d="M411.04,212.64L411.92,213.91L411.04,215.17L410.16,213.91Z" fill="#1d2d66"/>
<path d="M417.18,213.24L418.06,214.51L417.18,215.77L416.30,214.51Z" fill="#1d2d66"/>
<path d="M423.31,213.34L424.19,214.60L423.31,215.87L422.43,214.60Z" fill="#1d2d66"/>
<path d="M429.45,213.12L430.33,214.39L429.45,215.65L428.57,214.39Z" fill="#1d2d66"/>
<path d="M435.58,213.84L436.46,215.11L435.58,216.37L434.70,215.11Z" fill="#1d2d66"/>
<path d="M447.85,213.12L448.73,214.39L447.85,215.65L446.97,214.39Z" fill="#1d2d66"/>
<path d="M460.12,214.64L461.00,215.91L460.12,217.17L459.25,215.91Z" fill="#1d2d66"/>
<path d="M484.67,216.94L485.55,218.21L484.67,219.47L483.79,218.21Z" fill="#1d2d66"/>
<path d="M533.75,217.81L534.63,219.08L533.75,220.34L532.87,219.08Z" fill="#1d2d66"/>
<path d="M681.00,218.07L681.88,219.34L681.00,220.60L680.12,219.34Z" fill="#1d2d66"/>
<line x1="387.52" y1="210.04" x2="387.52" y2="216.99" stroke="#9c1c22" stroke-width="1.1"/>
<line x1="386.22" y1="210.04" x2="388.82" y2="210.04" stroke="#9c1c22" stroke-width="1.2"/>
<line x1="386.22" y1="216.99" x2="388.82" y2="216.99" stroke="#9c1c22" stroke-width="1.2"/>
<line x1="388.55" y1="199.06" x2="388.55" y2="212.96" stroke="#9c1c22" stroke-width="1.1"/>
<line x1="387.25" y1="199.06" x2="389.85" y2="199.06" stroke="#9c1c22" stroke-width="1.2"/>
<line x1="387.25" y1="212.96" x2="389.85" y2="212.96" stroke="#9c1c22" stroke-width="1.2"/>
<line x1="389.57" y1="184.84" x2="389.57" y2="202.22" stroke="#9c1c22" stroke-width="1.1"/>
<line x1="388.27" y1="184.84" x2="390.87" y2="184.84" stroke="#9c1c22" stroke-width="1.2"/>
<line x1="388.27" y1="202.22" x2="390.87" y2="202.22" stroke="#9c1c22" stroke-width="1.2"/>
<line x1="390.55" y1="164.85" x2="390.55" y2="187.45" stroke="#9c1c22" stroke-width="1.1"/>
<line x1="389.25" y1="164.85" x2="391.85" y2="164.85" stroke="#9c1c22" stroke-width="1.2"/>
<line x1="389.25" y1="187.45" x2="391.85" y2="187.45" stroke="#9c1c22" stroke-width="1.2"/>
<line x1="392.64" y1="119.12" x2="392.64" y2="187.37" stroke="#9c1c22" stroke-width="1.1"/>
<line x1="391.34" y1="119.12" x2="393.94" y2="119.12" stroke="#9c1c22" stroke-width="1.2"/>
<line x1="391.34" y1="187.37" x2="393.94" y2="187.37" stroke="#9c1c22" stroke-width="1.2"/>
<line x1="395.70" y1="70.25" x2="395.70" y2="154.89" stroke="#9c1c22" stroke-width="1.1"/>
<line x1="394.40" y1="70.25" x2="397.00" y2="70.25" stroke="#9c1c22" stroke-width="1.2"/>
<line x1="394.40" y1="154.89" x2="397.00" y2="154.89" stroke="#9c1c22" stroke-width="1.2"/>
<line x1="398.77" y1="86.23" x2="398.77" y2="170.35" stroke="#9c1c22" stroke-width="1.1"/>
<line x1="397.47" y1="86.23" x2="400.07" y2="86.23" stroke="#9c1c22" stroke-width="1.2"/>
<line x1="397.47" y1="170.35" x2="400.07" y2="170.35" stroke="#9c1c22" stroke-width="1.2"/>
<line x1="401.84" y1="131.48" x2="401.84" y2="182.58" stroke="#9c1c22" stroke-width="1.1"/>
<line x1="400.54" y1="131.48" x2="403.14" y2="131.48" stroke="#9c1c22" stroke-width="1.2"/>
<line x1="400.54" y1="182.58" x2="403.14" y2="182.58" stroke="#9c1c22" stroke-width="1.2"/>
<line x1="404.91" y1="161.93" x2="404.91" y2="192.10" stroke="#9c1c22" stroke-width="1.1"/>
<line x1="403.61" y1="161.93" x2="406.21" y2="161.93" stroke="#9c1c22" stroke-width="1.2"/>
<line x1="403.61" y1="192.10" x2="406.21" y2="192.10" stroke="#9c1c22" stroke-width="1.2"/>
<line x1="407.97" y1="177.02" x2="407.97" y2="199.61" stroke="#9c1c22" stroke-width="1.1"/>
<line x1="406.67" y1="177.02" x2="409.27" y2="177.02" stroke="#9c1c22" stroke-width="1.2"/>
<line x1="406.67" y1="199.61" x2="409.27" y2="199.61" stroke="#9c1c22" stroke-width="1.2"/>
<line x1="411.04" y1="188.32" x2="411.04" y2="205.70" stroke="#9c1c22" stroke-width="1.1"/>
<line x1="409.74" y1="188.32" x2="412.34" y2="188.32" stroke="#9c1c22" stroke-width="1.2"/>
<line x1="409.74" y1="205.70" x2="412.34" y2="205.70" stroke="#9c1c22" stroke-width="1.2"/>
<line x1="417.18" y1="203.82" x2="417.18" y2="211.81" stroke="#9c1c22" stroke-width="1.1"/>
<line x1="415.88" y1="203.82" x2="418.48" y2="203.82" stroke="#9c1c22" stroke-width="1.2"/>
<line x1="415.88" y1="211.81" x2="418.48" y2="211.81" stroke="#9c1c22" stroke-width="1.2"/>
<line x1="423.31" y1="208.96" x2="423.31" y2="213.66" stroke="#9c1c22" stroke-width="1.1"/>
<line x1="422.01" y1="208.96" x2="424.61" y2="208.96" stroke="#9c1c22" stroke-width="1.2"/>
<line x1="422.01" y1="213.66" x2="424.61" y2="213.66" stroke="#9c1c22" stroke-width="1.2"/>
<line x1="429.45" y1="210.74" x2="429.45" y2="216.47" stroke="#9c1c22" stroke-width="1.1"/>
<line x1="428.15" y1="210.74" x2="430.75" y2="210.74" stroke="#9c1c22" stroke-width="1.2"/>
<line x1="428.15" y1="216.47" x2="430.75" y2="216.47" stroke="#9c1c22" stroke-width="1.2"/>
<line x1="435.58" y1="212.59" x2="435.58" y2="217.63" stroke="#9c1c22" stroke-width="1.1"/>
<line x1="434.28" y1="212.59" x2="436.88" y2="212.59" stroke="#9c1c22" stroke-width="1.2"/>
<line x1="434.28" y1="217.63" x2="436.88" y2="217.63" stroke="#9c1c22" stroke-width="1.2"/>
<line x1="447.85" y1="214.86" x2="447.85" y2="218.34" stroke="#9c1c22" stroke-width="1.1"/>
<line x1="446.55" y1="214.86" x2="449.15" y2="214.86" stroke="#9c1c22" stroke-width="1.2"/>
<line x1="446.55" y1="218.34" x2="449.15" y2="218.34" stroke="#9c1c22" stroke-width="1.2"/>
<line x1="460.12" y1="216.12" x2="460.12" y2="218.73" stroke="#9c1c22" stroke-width="1.1"/>
<line x1="458.82" y1="216.12" x2="461.43" y2="216.12" stroke="#9c1c22" stroke-width="1.2"/>
<line x1="458.82" y1="218.73" x2="461.43" y2="218.73" stroke="#9c1c22" stroke-width="1.2"/>
<line x1="484.67" y1="217.95" x2="484.67" y2="219.34" stroke="#9c1c22" stroke-width="1.1"/>
<line x1="483.37" y1="217.95" x2="485.97" y2="217.95" stroke="#9c1c22" stroke-width="1.2"/>
<line x1="483.37" y1="219.34" x2="485.97" y2="219.34" stroke="#9c1c22" stroke-width="1.2"/>
<line x1="533.75" y1="218.64" x2="533.75" y2="219.51" stroke="#9c1c22" stroke-width="1.1"/>
<line x1="532.45" y1="218.64" x2="535.05" y2="218.64" stroke="#9c1c22" stroke-width="1.2"/>
<line x1="532.45" y1="219.51" x2="535.05" y2="219.51" stroke="#9c1c22" stroke-width="1.2"/>
<line x1="681.00" y1="219.08" x2="681.00" y2="219.60" stroke="#9c1c22" stroke-width="1.1"/>
<line x1="679.70" y1="219.08" x2="682.30" y2="219.08" stroke="#9c1c22" stroke-width="1.2"/>
<polyline points="386.50,219.60 387.52,213.52 388.55,206.01 389.57,193.53 390.55,176.15 392.64,153.24 395.70,112.57 398.77,128.29 401.84,157.03 404.91,177.02 407.97,188.32 411.04,197.01 417.18,207.82 423.31,211.31 429.45,213.60 435.58,215.11 447.85,216.60 460.12,217.43 484.67,218.64 533.75,219.08 681.00,219.34" fill="none" stroke="#9c1c22" stroke-width="1.6" stroke-linejoin="round"/>
<path d="M386.50,218.34L387.38,219.60L386.50,220.86L385.62,219.60Z" fill="#9c1c22"/>
<path d="M387.52,212.25L388.40,213.52L387.52,214.78L386.64,213.52Z" fill="#9c1c22"/>
<path d="M388.55,204.74L389.43,206.01L388.55,207.27L387.67,206.01Z" fill="#9c1c22"/>
<path d="M389.57,192.27L390.45,193.53L389.57,194.79L388.69,193.53Z" fill="#9c1c22"/>
<path d="M390.55,174.89L391.43,176.15L390.55,177.41L389.67,176.15Z" fill="#9c1c22"/>
<path d="M392.64,151.98L393.52,153.24L392.64,154.51L391.76,153.24Z" fill="#9c1c22"/>
<path d="M395.70,111.31L396.58,112.57L395.70,113.84L394.82,112.57Z" fill="#9c1c22"/>
<path d="M398.77,127.02L399.65,128.29L398.77,129.55L397.89,128.29Z" fill="#9c1c22"/>
<path d="M401.84,155.77L402.72,157.03L401.84,158.30L400.96,157.03Z" fill="#9c1c22"/>
<path d="M404.91,175.75L405.79,177.02L404.91,178.28L404.03,177.02Z" fill="#9c1c22"/>
<path d="M407.97,187.05L408.85,188.32L407.97,189.58L407.09,188.32Z" fill="#9c1c22"/>
<path d="M411.04,195.74L411.92,197.01L411.04,198.27L410.16,197.01Z" fill="#9c1c22"/>
<path d="M417.18,206.55L418.06,207.82L417.18,209.08L416.30,207.82Z" fill="#9c1c22"/>
<path d="M423.31,210.04L424.19,211.31L423.31,212.57L422.43,211.31Z" fill="#9c1c22"/>
<path d="M429.45,212.34L430.33,213.60L429.45,214.87L428.57,213.60Z" fill="#9c1c22"/>
<path d="M435.58,213.84L436.46,215.11L435.58,216.37L434.70,215.11Z" fill="#9c1c22"/>
<path d="M447.85,215.34L448.73,216.60L447.85,217.87L446.97,216.60Z" fill="#9c1c22"/>
<path d="M460.12,216.16L461.00,217.43L460.12,218.69L459.25,217.43Z" fill="#9c1c22"/>
<path d="M484.67,217.38L485.55,218.64L484.67,219.91L483.79,218.64Z" fill="#9c1c22"/>
<path d="M533.75,217.81L534.63,219.08L533.75,220.34L532.87,219.08Z" fill="#9c1c22"/>
<path d="M681.00,218.07L681.88,219.34L681.00,220.60L680.12,219.34Z" fill="#9c1c22"/>
<line x1="606.2" y1="69.9" x2="617.2" y2="69.9" stroke="#9c1c22" stroke-width="1.6"/>
<path d="M611.70,68.64L612.58,69.90L611.70,71.17L610.82,69.90Z" fill="#9c1c22"/>
<text x="623.0" y="73.1" font-size="8.6">T1</text>
<line x1="606.2" y1="83.2" x2="617.2" y2="83.2" stroke="#1d2d66" stroke-width="1.6"/>
<path d="M611.70,81.94L612.58,83.20L611.70,84.47L610.82,83.20Z" fill="#1d2d66"/>
<text x="623.0" y="86.2" font-size="8.6">T2</text>
<text x="430.8" y="27.9" font-size="14.5">Resveratrol-3-O-glucuronide</text>
<text x="362.2" y="12.0" font-size="14.5">B</text>
<text x="504.8" y="245.0" font-size="8.2">Time(h)</text>
<text transform="translate(353.0,129.8) rotate(-90)" text-anchor="middle" font-size="8.4">Concentration(ng/mL)</text>
<line x1="45.00" y1="305.10" x2="45.00" y2="480.50" stroke="#231f20" stroke-width="1.6"/>
<line x1="44.20" y1="479.70" x2="340.00" y2="479.70" stroke="#231f20" stroke-width="1.6"/>
<line x1="40.80" y1="479.70" x2="45.00" y2="479.70" stroke="#231f20" stroke-width="1.35"/>
<text x="39.80" y="482.30" text-anchor="end" font-size="7.4">0</text>
<line x1="42.50" y1="473.91" x2="45.00" y2="473.91" stroke="#231f20" stroke-width="1.35"/>
<line x1="42.50" y1="468.11" x2="45.00" y2="468.11" stroke="#231f20" stroke-width="1.35"/>
<line x1="42.50" y1="462.32" x2="45.00" y2="462.32" stroke="#231f20" stroke-width="1.35"/>
<line x1="42.50" y1="456.53" x2="45.00" y2="456.53" stroke="#231f20" stroke-width="1.35"/>
<line x1="42.50" y1="450.73" x2="45.00" y2="450.73" stroke="#231f20" stroke-width="1.35"/>
<line x1="42.50" y1="444.94" x2="45.00" y2="444.94" stroke="#231f20" stroke-width="1.35"/>
<line x1="42.50" y1="439.15" x2="45.00" y2="439.15" stroke="#231f20" stroke-width="1.35"/>
<line x1="42.50" y1="433.35" x2="45.00" y2="433.35" stroke="#231f20" stroke-width="1.35"/>
<line x1="42.50" y1="427.56" x2="45.00" y2="427.56" stroke="#231f20" stroke-width="1.35"/>
<line x1="40.80" y1="421.77" x2="45.00" y2="421.77" stroke="#231f20" stroke-width="1.35"/>
<text x="39.80" y="424.37" text-anchor="end" font-size="7.4">5000</text>
<line x1="42.50" y1="415.97" x2="45.00" y2="415.97" stroke="#231f20" stroke-width="1.35"/>
<line x1="42.50" y1="410.18" x2="45.00" y2="410.18" stroke="#231f20" stroke-width="1.35"/>
<line x1="42.50" y1="404.39" x2="45.00" y2="404.39" stroke="#231f20" stroke-width="1.35"/>
<line x1="42.50" y1="398.59" x2="45.00" y2="398.59" stroke="#231f20" stroke-width="1.35"/>
<line x1="42.50" y1="392.80" x2="45.00" y2="392.80" stroke="#231f20" stroke-width="1.35"/>
<line x1="42.50" y1="387.01" x2="45.00" y2="387.01" stroke="#231f20" stroke-width="1.35"/>
<line x1="42.50" y1="381.21" x2="45.00" y2="381.21" stroke="#231f20" stroke-width="1.35"/>
<line x1="42.50" y1="375.42" x2="45.00" y2="375.42" stroke="#231f20" stroke-width="1.35"/>
<line x1="42.50" y1="369.63" x2="45.00" y2="369.63" stroke="#231f20" stroke-width="1.35"/>
<line x1="40.80" y1="363.83" x2="45.00" y2="363.83" stroke="#231f20" stroke-width="1.35"/>
<text x="39.80" y="366.43" text-anchor="end" font-size="7.4">10000</text>
<line x1="42.50" y1="358.04" x2="45.00" y2="358.04" stroke="#231f20" stroke-width="1.35"/>
<line x1="42.50" y1="352.25" x2="45.00" y2="352.25" stroke="#231f20" stroke-width="1.35"/>
<line x1="42.50" y1="346.45" x2="45.00" y2="346.45" stroke="#231f20" stroke-width="1.35"/>
<line x1="42.50" y1="340.66" x2="45.00" y2="340.66" stroke="#231f20" stroke-width="1.35"/>
<line x1="42.50" y1="334.87" x2="45.00" y2="334.87" stroke="#231f20" stroke-width="1.35"/>
<line x1="42.50" y1="329.07" x2="45.00" y2="329.07" stroke="#231f20" stroke-width="1.35"/>
<line x1="42.50" y1="323.28" x2="45.00" y2="323.28" stroke="#231f20" stroke-width="1.35"/>
<line x1="42.50" y1="317.49" x2="45.00" y2="317.49" stroke="#231f20" stroke-width="1.35"/>
<line x1="42.50" y1="311.69" x2="45.00" y2="311.69" stroke="#231f20" stroke-width="1.35"/>
<line x1="40.80" y1="305.90" x2="45.00" y2="305.90" stroke="#231f20" stroke-width="1.35"/>
<text x="39.80" y="308.50" text-anchor="end" font-size="7.4">15000</text>
<line x1="45.00" y1="479.70" x2="45.00" y2="483.70" stroke="#231f20" stroke-width="1.35"/>
<text x="45.00" y="492.00" text-anchor="middle" font-size="7.4">0</text>
<line x1="69.52" y1="479.70" x2="69.52" y2="483.70" stroke="#231f20" stroke-width="1.35"/>
<text x="69.52" y="492.00" text-anchor="middle" font-size="7.4">2</text>
<line x1="94.03" y1="479.70" x2="94.03" y2="483.70" stroke="#231f20" stroke-width="1.35"/>
<text x="94.03" y="492.00" text-anchor="middle" font-size="7.4">4</text>
<line x1="118.55" y1="479.70" x2="118.55" y2="483.70" stroke="#231f20" stroke-width="1.35"/>
<text x="118.55" y="492.00" text-anchor="middle" font-size="7.4">6</text>
<line x1="143.07" y1="479.70" x2="143.07" y2="483.70" stroke="#231f20" stroke-width="1.35"/>
<text x="143.07" y="492.00" text-anchor="middle" font-size="7.4">8</text>
<line x1="167.58" y1="479.70" x2="167.58" y2="483.70" stroke="#231f20" stroke-width="1.35"/>
<text x="167.58" y="492.00" text-anchor="middle" font-size="7.4">10</text>
<line x1="192.10" y1="479.70" x2="192.10" y2="483.70" stroke="#231f20" stroke-width="1.35"/>
<text x="192.10" y="492.00" text-anchor="middle" font-size="7.4">12</text>
<line x1="216.62" y1="479.70" x2="216.62" y2="483.70" stroke="#231f20" stroke-width="1.35"/>
<text x="216.62" y="492.00" text-anchor="middle" font-size="7.4">14</text>
<line x1="241.13" y1="479.70" x2="241.13" y2="483.70" stroke="#231f20" stroke-width="1.35"/>
<text x="241.13" y="492.00" text-anchor="middle" font-size="7.4">16</text>
<line x1="265.65" y1="479.70" x2="265.65" y2="483.70" stroke="#231f20" stroke-width="1.35"/>
<text x="265.65" y="492.00" text-anchor="middle" font-size="7.4">18</text>
<line x1="290.17" y1="479.70" x2="290.17" y2="483.70" stroke="#231f20" stroke-width="1.35"/>
<text x="290.17" y="492.00" text-anchor="middle" font-size="7.4">20</text>
<line x1="314.68" y1="479.70" x2="314.68" y2="483.70" stroke="#231f20" stroke-width="1.35"/>
<text x="314.68" y="492.00" text-anchor="middle" font-size="7.4">22</text>
<line x1="339.20" y1="479.70" x2="339.20" y2="483.70" stroke="#231f20" stroke-width="1.35"/>
<text x="339.20" y="492.00" text-anchor="middle" font-size="7.4">24</text>
<line x1="46.02" y1="477.04" x2="46.02" y2="478.89" stroke="#1d2d66" stroke-width="1.1"/>
<line x1="44.72" y1="477.04" x2="47.32" y2="477.04" stroke="#1d2d66" stroke-width="1.2"/>
<line x1="44.72" y1="478.89" x2="47.32" y2="478.89" stroke="#1d2d66" stroke-width="1.2"/>
<line x1="47.05" y1="475.41" x2="47.05" y2="478.19" stroke="#1d2d66" stroke-width="1.1"/>
<line x1="45.75" y1="475.41" x2="48.35" y2="475.41" stroke="#1d2d66" stroke-width="1.2"/>
<line x1="45.75" y1="478.19" x2="48.35" y2="478.19" stroke="#1d2d66" stroke-width="1.2"/>
<line x1="48.06" y1="474.14" x2="48.06" y2="477.61" stroke="#1d2d66" stroke-width="1.1"/>
<line x1="46.76" y1="474.14" x2="49.36" y2="474.14" stroke="#1d2d66" stroke-width="1.2"/>
<line x1="46.76" y1="477.61" x2="49.36" y2="477.61" stroke="#1d2d66" stroke-width="1.2"/>
<line x1="49.05" y1="473.56" x2="49.05" y2="477.04" stroke="#1d2d66" stroke-width="1.1"/>
<line x1="47.75" y1="473.56" x2="50.35" y2="473.56" stroke="#1d2d66" stroke-width="1.2"/>
<line x1="47.75" y1="477.04" x2="50.35" y2="477.04" stroke="#1d2d66" stroke-width="1.2"/>
<line x1="51.13" y1="472.71" x2="51.13" y2="476.70" stroke="#1d2d66" stroke-width="1.1"/>
<line x1="49.83" y1="472.71" x2="52.43" y2="472.71" stroke="#1d2d66" stroke-width="1.2"/>
<line x1="49.83" y1="476.70" x2="52.43" y2="476.70" stroke="#1d2d66" stroke-width="1.2"/>
<line x1="54.19" y1="470.81" x2="54.19" y2="476.00" stroke="#1d2d66" stroke-width="1.1"/>
<line x1="52.89" y1="470.81" x2="55.49" y2="470.81" stroke="#1d2d66" stroke-width="1.2"/>
<line x1="52.89" y1="476.00" x2="55.49" y2="476.00" stroke="#1d2d66" stroke-width="1.2"/>
<line x1="57.26" y1="468.81" x2="57.26" y2="476.02" stroke="#1d2d66" stroke-width="1.1"/>
<line x1="55.96" y1="468.81" x2="58.56" y2="468.81" stroke="#1d2d66" stroke-width="1.2"/>
<line x1="55.96" y1="476.02" x2="58.56" y2="476.02" stroke="#1d2d66" stroke-width="1.2"/>
<line x1="60.32" y1="469.21" x2="60.32" y2="475.01" stroke="#1d2d66" stroke-width="1.1"/>
<line x1="59.02" y1="469.21" x2="61.62" y2="469.21" stroke="#1d2d66" stroke-width="1.2"/>
<line x1="59.02" y1="475.01" x2="61.62" y2="475.01" stroke="#1d2d66" stroke-width="1.2"/>
<line x1="63.39" y1="467.12" x2="63.39" y2="475.69" stroke="#1d2d66" stroke-width="1.1"/>
<line x1="62.09" y1="467.12" x2="64.69" y2="467.12" stroke="#1d2d66" stroke-width="1.2"/>
<line x1="62.09" y1="475.69" x2="64.69" y2="475.69" stroke="#1d2d66" stroke-width="1.2"/>
<line x1="66.45" y1="464.82" x2="66.45" y2="476.80" stroke="#1d2d66" stroke-width="1.1"/>
<line x1="65.15" y1="464.82" x2="67.75" y2="464.82" stroke="#1d2d66" stroke-width="1.2"/>
<line x1="65.15" y1="476.80" x2="67.75" y2="476.80" stroke="#1d2d66" stroke-width="1.2"/>
<line x1="69.52" y1="463.81" x2="69.52" y2="477.00" stroke="#1d2d66" stroke-width="1.1"/>
<line x1="68.22" y1="463.81" x2="70.82" y2="463.81" stroke="#1d2d66" stroke-width="1.2"/>
<line x1="68.22" y1="477.00" x2="70.82" y2="477.00" stroke="#1d2d66" stroke-width="1.2"/>
<line x1="75.65" y1="465.62" x2="75.65" y2="475.40" stroke="#1d2d66" stroke-width="1.1"/>
<line x1="74.35" y1="465.62" x2="76.95" y2="465.62" stroke="#1d2d66" stroke-width="1.2"/>
<line x1="74.35" y1="475.40" x2="76.95" y2="475.40" stroke="#1d2d66" stroke-width="1.2"/>
<line x1="81.78" y1="464.75" x2="81.78" y2="475.88" stroke="#1d2d66" stroke-width="1.1"/>
<line x1="80.48" y1="464.75" x2="83.08" y2="464.75" stroke="#1d2d66" stroke-width="1.2"/>
<line x1="80.48" y1="475.88" x2="83.08" y2="475.88" stroke="#1d2d66" stroke-width="1.2"/>
<line x1="87.90" y1="465.65" x2="87.90" y2="476.77" stroke="#1d2d66" stroke-width="1.1"/>
<line x1="86.60" y1="465.65" x2="89.20" y2="465.65" stroke="#1d2d66" stroke-width="1.2"/>
<line x1="86.60" y1="476.77" x2="89.20" y2="476.77" stroke="#1d2d66" stroke-width="1.2"/>
<line x1="94.03" y1="467.95" x2="94.03" y2="476.06" stroke="#1d2d66" stroke-width="1.1"/>
<line x1="92.73" y1="467.95" x2="95.33" y2="467.95" stroke="#1d2d66" stroke-width="1.2"/>
<line x1="92.73" y1="476.06" x2="95.33" y2="476.06" stroke="#1d2d66" stroke-width="1.2"/>
<line x1="106.29" y1="463.13" x2="106.29" y2="477.50" stroke="#1d2d66" stroke-width="1.1"/>
<line x1="104.99" y1="463.13" x2="107.59" y2="463.13" stroke="#1d2d66" stroke-width="1.2"/>
<line x1="104.99" y1="477.50" x2="107.59" y2="477.50" stroke="#1d2d66" stroke-width="1.2"/>
<line x1="118.55" y1="468.18" x2="118.55" y2="475.83" stroke="#1d2d66" stroke-width="1.1"/>
<line x1="117.25" y1="468.18" x2="119.85" y2="468.18" stroke="#1d2d66" stroke-width="1.2"/>
<line x1="117.25" y1="475.83" x2="119.85" y2="475.83" stroke="#1d2d66" stroke-width="1.2"/>
<line x1="143.07" y1="474.05" x2="143.07" y2="476.36" stroke="#1d2d66" stroke-width="1.1"/>
<line x1="141.77" y1="474.05" x2="144.37" y2="474.05" stroke="#1d2d66" stroke-width="1.2"/>
<line x1="141.77" y1="476.36" x2="144.37" y2="476.36" stroke="#1d2d66" stroke-width="1.2"/>
<line x1="192.10" y1="476.31" x2="192.10" y2="477.70" stroke="#1d2d66" stroke-width="1.1"/>
<line x1="190.80" y1="476.31" x2="193.40" y2="476.31" stroke="#1d2d66" stroke-width="1.2"/>
<line x1="190.80" y1="477.70" x2="193.40" y2="477.70" stroke="#1d2d66" stroke-width="1.2"/>
<line x1="339.20" y1="477.85" x2="339.20" y2="478.77" stroke="#1d2d66" stroke-width="1.1"/>
<line x1="337.90" y1="477.85" x2="340.50" y2="477.85" stroke="#1d2d66" stroke-width="1.2"/>
<line x1="337.90" y1="478.77" x2="340.50" y2="478.77" stroke="#1d2d66" stroke-width="1.2"/>
<polyline points="45.00,479.70 46.02,477.96 47.05,476.80 48.06,475.88 49.05,475.30 51.13,474.71 54.19,473.41 57.26,472.41 60.32,472.11 63.39,471.40 66.45,470.81 69.52,470.41 75.65,470.51 81.78,470.31 87.90,471.21 94.03,472.01 106.29,470.31 118.55,472.01 143.07,475.20 192.10,477.00 339.20,478.31" fill="none" stroke="#1d2d66" stroke-width="1.6" stroke-linejoin="round"/>
<path d="M45.00,478.44L45.88,479.70L45.00,480.96L44.12,479.70Z" fill="#1d2d66"/>
<path d="M46.02,476.70L46.90,477.96L46.02,479.23L45.14,477.96Z" fill="#1d2d66"/>
<path d="M47.05,475.54L47.93,476.80L47.05,478.07L46.17,476.80Z" fill="#1d2d66"/>
<path d="M48.06,474.61L48.94,475.88L48.06,477.14L47.18,475.88Z" fill="#1d2d66"/>
<path d="M49.05,474.03L49.93,475.30L49.05,476.56L48.17,475.30Z" fill="#1d2d66"/>
<path d="M51.13,473.44L52.01,474.71L51.13,475.97L50.25,474.71Z" fill="#1d2d66"/>
<path d="M54.19,472.14L55.07,473.41L54.19,474.67L53.31,473.41Z" fill="#1d2d66"/>
<path d="M57.26,471.15L58.14,472.41L57.26,473.68L56.38,472.41Z" fill="#1d2d66"/>
<path d="M60.32,470.85L61.20,472.11L60.32,473.38L59.44,472.11Z" fill="#1d2d66"/>
<path d="M63.39,470.14L64.27,471.40L63.39,472.67L62.51,471.40Z" fill="#1d2d66"/>
<path d="M66.45,469.55L67.33,470.81L66.45,472.08L65.57,470.81Z" fill="#1d2d66"/>
<path d="M69.52,469.14L70.40,470.41L69.52,471.67L68.64,470.41Z" fill="#1d2d66"/>
<path d="M75.65,469.25L76.53,470.51L75.65,471.78L74.77,470.51Z" fill="#1d2d66"/>
<path d="M81.78,469.05L82.66,470.31L81.78,471.58L80.90,470.31Z" fill="#1d2d66"/>
<path d="M87.90,469.94L88.78,471.21L87.90,472.47L87.02,471.21Z" fill="#1d2d66"/>
<path d="M94.03,470.74L94.91,472.01L94.03,473.27L93.15,472.01Z" fill="#1d2d66"/>
<path d="M106.29,469.05L107.17,470.31L106.29,471.58L105.41,470.31Z" fill="#1d2d66"/>
<path d="M118.55,470.74L119.43,472.01L118.55,473.27L117.67,472.01Z" fill="#1d2d66"/>
<path d="M143.07,473.94L143.95,475.20L143.07,476.47L142.19,475.20Z" fill="#1d2d66"/>
<path d="M192.10,475.74L192.98,477.00L192.10,478.27L191.22,477.00Z" fill="#1d2d66"/>
<path d="M339.20,477.04L340.08,478.31L339.20,479.57L338.32,478.31Z" fill="#1d2d66"/>
<line x1="46.02" y1="468.11" x2="46.02" y2="475.07" stroke="#9c1c22" stroke-width="1.1"/>
<line x1="44.72" y1="468.11" x2="47.32" y2="468.11" stroke="#9c1c22" stroke-width="1.2"/>
<line x1="44.72" y1="475.07" x2="47.32" y2="475.07" stroke="#9c1c22" stroke-width="1.2"/>
<line x1="47.05" y1="458.96" x2="47.05" y2="464.52" stroke="#9c1c22" stroke-width="1.1"/>
<line x1="45.75" y1="458.96" x2="48.35" y2="458.96" stroke="#9c1c22" stroke-width="1.2"/>
<line x1="45.75" y1="464.52" x2="48.35" y2="464.52" stroke="#9c1c22" stroke-width="1.2"/>
<line x1="48.06" y1="448.28" x2="48.06" y2="462.18" stroke="#9c1c22" stroke-width="1.1"/>
<line x1="46.76" y1="448.28" x2="49.36" y2="448.28" stroke="#9c1c22" stroke-width="1.2"/>
<line x1="46.76" y1="462.18" x2="49.36" y2="462.18" stroke="#9c1c22" stroke-width="1.2"/>
<line x1="49.05" y1="433.82" x2="49.05" y2="443.09" stroke="#9c1c22" stroke-width="1.1"/>
<line x1="47.75" y1="433.82" x2="50.35" y2="433.82" stroke="#9c1c22" stroke-width="1.2"/>
<line x1="47.75" y1="443.09" x2="50.35" y2="443.09" stroke="#9c1c22" stroke-width="1.2"/>
<line x1="51.13" y1="397.77" x2="51.13" y2="421.41" stroke="#9c1c22" stroke-width="1.1"/>
<line x1="49.83" y1="397.77" x2="52.43" y2="397.77" stroke="#9c1c22" stroke-width="1.2"/>
<line x1="49.83" y1="421.41" x2="52.43" y2="421.41" stroke="#9c1c22" stroke-width="1.2"/>
<line x1="54.19" y1="356.07" x2="54.19" y2="420.96" stroke="#9c1c22" stroke-width="1.1"/>
<line x1="52.89" y1="356.07" x2="55.49" y2="356.07" stroke="#9c1c22" stroke-width="1.2"/>
<line x1="52.89" y1="420.96" x2="55.49" y2="420.96" stroke="#9c1c22" stroke-width="1.2"/>
<line x1="57.26" y1="369.63" x2="57.26" y2="429.88" stroke="#9c1c22" stroke-width="1.1"/>
<line x1="55.96" y1="369.63" x2="58.56" y2="369.63" stroke="#9c1c22" stroke-width="1.2"/>
<line x1="55.96" y1="429.88" x2="58.56" y2="429.88" stroke="#9c1c22" stroke-width="1.2"/>
<line x1="60.32" y1="394.75" x2="60.32" y2="446.47" stroke="#9c1c22" stroke-width="1.1"/>
<line x1="59.02" y1="394.75" x2="61.62" y2="394.75" stroke="#9c1c22" stroke-width="1.2"/>
<line x1="59.02" y1="446.47" x2="61.62" y2="446.47" stroke="#9c1c22" stroke-width="1.2"/>
<line x1="63.39" y1="418.87" x2="63.39" y2="443.20" stroke="#9c1c22" stroke-width="1.1"/>
<line x1="62.09" y1="418.87" x2="64.69" y2="418.87" stroke="#9c1c22" stroke-width="1.2"/>
<line x1="62.09" y1="443.20" x2="64.69" y2="443.20" stroke="#9c1c22" stroke-width="1.2"/>
<line x1="66.45" y1="430.80" x2="66.45" y2="454.44" stroke="#9c1c22" stroke-width="1.1"/>
<line x1="65.15" y1="430.80" x2="67.75" y2="430.80" stroke="#9c1c22" stroke-width="1.2"/>
<line x1="65.15" y1="454.44" x2="67.75" y2="454.44" stroke="#9c1c22" stroke-width="1.2"/>
<line x1="69.52" y1="436.89" x2="69.52" y2="462.26" stroke="#9c1c22" stroke-width="1.1"/>
<line x1="68.22" y1="436.89" x2="70.82" y2="436.89" stroke="#9c1c22" stroke-width="1.2"/>
<line x1="68.22" y1="462.26" x2="70.82" y2="462.26" stroke="#9c1c22" stroke-width="1.2"/>
<line x1="75.65" y1="456.53" x2="75.65" y2="466.95" stroke="#9c1c22" stroke-width="1.1"/>
<line x1="74.35" y1="456.53" x2="76.95" y2="456.53" stroke="#9c1c22" stroke-width="1.2"/>
<line x1="74.35" y1="466.95" x2="76.95" y2="466.95" stroke="#9c1c22" stroke-width="1.2"/>
<line x1="81.78" y1="465.94" x2="81.78" y2="472.89" stroke="#9c1c22" stroke-width="1.1"/>
<line x1="80.48" y1="465.94" x2="83.08" y2="465.94" stroke="#9c1c22" stroke-width="1.2"/>
<line x1="80.48" y1="472.89" x2="83.08" y2="472.89" stroke="#9c1c22" stroke-width="1.2"/>
<line x1="87.90" y1="468.31" x2="87.90" y2="474.10" stroke="#9c1c22" stroke-width="1.1"/>
<line x1="86.60" y1="468.31" x2="89.20" y2="468.31" stroke="#9c1c22" stroke-width="1.2"/>
<line x1="86.60" y1="474.10" x2="89.20" y2="474.10" stroke="#9c1c22" stroke-width="1.2"/>
<line x1="94.03" y1="470.29" x2="94.03" y2="474.93" stroke="#9c1c22" stroke-width="1.1"/>
<line x1="92.73" y1="470.29" x2="95.33" y2="470.29" stroke="#9c1c22" stroke-width="1.2"/>
<line x1="92.73" y1="474.93" x2="95.33" y2="474.93" stroke="#9c1c22" stroke-width="1.2"/>
<line x1="106.29" y1="472.97" x2="106.29" y2="476.44" stroke="#9c1c22" stroke-width="1.1"/>
<line x1="104.99" y1="472.97" x2="107.59" y2="472.97" stroke="#9c1c22" stroke-width="1.2"/>
<line x1="104.99" y1="476.44" x2="107.59" y2="476.44" stroke="#9c1c22" stroke-width="1.2"/>
<line x1="118.55" y1="473.81" x2="118.55" y2="476.59" stroke="#9c1c22" stroke-width="1.1"/>
<line x1="117.25" y1="473.81" x2="119.85" y2="473.81" stroke="#9c1c22" stroke-width="1.2"/>
<line x1="117.25" y1="476.59" x2="119.85" y2="476.59" stroke="#9c1c22" stroke-width="1.2"/>
<line x1="143.07" y1="475.48" x2="143.07" y2="477.34" stroke="#9c1c22" stroke-width="1.1"/>
<line x1="141.77" y1="475.48" x2="144.37" y2="475.48" stroke="#9c1c22" stroke-width="1.2"/>
<line x1="141.77" y1="477.34" x2="144.37" y2="477.34" stroke="#9c1c22" stroke-width="1.2"/>
<line x1="192.10" y1="476.31" x2="192.10" y2="477.70" stroke="#9c1c22" stroke-width="1.1"/>
<line x1="190.80" y1="476.31" x2="193.40" y2="476.31" stroke="#9c1c22" stroke-width="1.2"/>
<line x1="190.80" y1="477.70" x2="193.40" y2="477.70" stroke="#9c1c22" stroke-width="1.2"/>
<line x1="339.20" y1="478.08" x2="339.20" y2="479.00" stroke="#9c1c22" stroke-width="1.1"/>
<line x1="337.90" y1="478.08" x2="340.50" y2="478.08" stroke="#9c1c22" stroke-width="1.2"/>
<line x1="337.90" y1="479.00" x2="340.50" y2="479.00" stroke="#9c1c22" stroke-width="1.2"/>
<polyline points="45.00,479.70 46.02,471.59 47.05,461.74 48.06,455.23 49.05,438.45 51.13,409.59 54.19,388.51 57.26,399.75 60.32,420.61 63.39,431.04 66.45,442.62 69.52,449.57 75.65,461.74 81.78,469.41 87.90,471.21 94.03,472.61 106.29,474.71 118.55,475.20 143.07,476.41 192.10,477.00 339.20,478.54" fill="none" stroke="#9c1c22" stroke-width="1.6" stroke-linejoin="round"/>
<path d="M45.00,478.44L45.88,479.70L45.00,480.96L44.12,479.70Z" fill="#9c1c22"/>
<path d="M46.02,470.32L46.90,471.59L46.02,472.85L45.14,471.59Z" fill="#9c1c22"/>
<path d="M47.05,460.48L47.93,461.74L47.05,463.01L46.17,461.74Z" fill="#9c1c22"/>
<path d="M48.06,453.96L48.94,455.23L48.06,456.49L47.18,455.23Z" fill="#9c1c22"/>
<path d="M49.05,437.19L49.93,438.45L49.05,439.72L48.17,438.45Z" fill="#9c1c22"/>
<path d="M51.13,408.32L52.01,409.59L51.13,410.85L50.25,409.59Z" fill="#9c1c22"/>
<path d="M54.19,387.25L55.07,388.51L54.19,389.78L53.31,388.51Z" fill="#9c1c22"/>
<path d="M57.26,398.49L58.14,399.75L57.26,401.02L56.38,399.75Z" fill="#9c1c22"/>
<path d="M60.32,419.34L61.20,420.61L60.32,421.87L59.44,420.61Z" fill="#9c1c22"/>
<path d="M63.39,429.77L64.27,431.04L63.39,432.30L62.51,431.04Z" fill="#9c1c22"/>
<path d="M66.45,441.36L67.33,442.62L66.45,443.89L65.57,442.62Z" fill="#9c1c22"/>
<path d="M69.52,448.31L70.40,449.57L69.52,450.84L68.64,449.57Z" fill="#9c1c22"/>
<path d="M75.65,460.48L76.53,461.74L75.65,463.01L74.77,461.74Z" fill="#9c1c22"/>
<path d="M81.78,468.15L82.66,469.41L81.78,470.68L80.90,469.41Z" fill="#9c1c22"/>
<path d="M87.90,469.94L88.78,471.21L87.90,472.47L87.02,471.21Z" fill="#9c1c22"/>
<path d="M94.03,471.34L94.91,472.61L94.03,473.87L93.15,472.61Z" fill="#9c1c22"/>
<path d="M106.29,473.44L107.17,474.71L106.29,475.97L105.41,474.71Z" fill="#9c1c22"/>
<path d="M118.55,473.94L119.43,475.20L118.55,476.47L117.67,475.20Z" fill="#9c1c22"/>
<path d="M143.07,475.14L143.95,476.41L143.07,477.67L142.19,476.41Z" fill="#9c1c22"/>
<path d="M192.10,475.74L192.98,477.00L192.10,478.27L191.22,477.00Z" fill="#9c1c22"/>
<path d="M339.20,477.28L340.08,478.54L339.20,479.81L338.32,478.54Z" fill="#9c1c22"/>
<line x1="264.5" y1="330.8" x2="275.4" y2="330.8" stroke="#9c1c22" stroke-width="1.6"/>
<path d="M269.95,329.54L270.83,330.80L269.95,332.06L269.07,330.80Z" fill="#9c1c22"/>
<text x="281.0" y="333.9" font-size="8.6">T1</text>
<line x1="264.5" y1="344.1" x2="275.4" y2="344.1" stroke="#1d2d66" stroke-width="1.6"/>
<path d="M269.95,342.84L270.83,344.10L269.95,345.37L269.07,344.10Z" fill="#1d2d66"/>
<text x="281.0" y="346.9" font-size="8.6">T2</text>
<text x="84.9" y="287.5" font-size="14.5">Resveratrol-4'-O-glucuronide</text>
<text x="13.3" y="277.0" font-size="14.5">C</text>
<text x="162.7" y="505.8" font-size="8.2">Time(h)</text>
<text transform="translate(11.6,390.6) rotate(-90)" text-anchor="middle" font-size="8.4">Concentration(ng/mL)</text>
<line x1="386.50" y1="304.70" x2="386.50" y2="480.60" stroke="#231f20" stroke-width="1.6"/>
<line x1="385.70" y1="479.80" x2="681.80" y2="479.80" stroke="#231f20" stroke-width="1.6"/>
<line x1="382.30" y1="479.80" x2="386.50" y2="479.80" stroke="#231f20" stroke-width="1.35"/>
<text x="381.30" y="482.40" text-anchor="end" font-size="7.4">0</text>
<line x1="384.00" y1="475.44" x2="386.50" y2="475.44" stroke="#231f20" stroke-width="1.35"/>
<line x1="384.00" y1="471.09" x2="386.50" y2="471.09" stroke="#231f20" stroke-width="1.35"/>
<line x1="384.00" y1="466.73" x2="386.50" y2="466.73" stroke="#231f20" stroke-width="1.35"/>
<line x1="384.00" y1="462.37" x2="386.50" y2="462.37" stroke="#231f20" stroke-width="1.35"/>
<line x1="384.00" y1="458.01" x2="386.50" y2="458.01" stroke="#231f20" stroke-width="1.35"/>
<line x1="384.00" y1="453.66" x2="386.50" y2="453.66" stroke="#231f20" stroke-width="1.35"/>
<line x1="384.00" y1="449.30" x2="386.50" y2="449.30" stroke="#231f20" stroke-width="1.35"/>
<line x1="384.00" y1="444.94" x2="386.50" y2="444.94" stroke="#231f20" stroke-width="1.35"/>
<line x1="384.00" y1="440.58" x2="386.50" y2="440.58" stroke="#231f20" stroke-width="1.35"/>
<line x1="382.30" y1="436.23" x2="386.50" y2="436.23" stroke="#231f20" stroke-width="1.35"/>
<text x="381.30" y="438.83" text-anchor="end" font-size="7.4">5000</text>
<line x1="384.00" y1="431.87" x2="386.50" y2="431.87" stroke="#231f20" stroke-width="1.35"/>
<line x1="384.00" y1="427.51" x2="386.50" y2="427.51" stroke="#231f20" stroke-width="1.35"/>
<line x1="384.00" y1="423.15" x2="386.50" y2="423.15" stroke="#231f20" stroke-width="1.35"/>
<line x1="384.00" y1="418.80" x2="386.50" y2="418.80" stroke="#231f20" stroke-width="1.35"/>
<line x1="384.00" y1="414.44" x2="386.50" y2="414.44" stroke="#231f20" stroke-width="1.35"/>
<line x1="384.00" y1="410.08" x2="386.50" y2="410.08" stroke="#231f20" stroke-width="1.35"/>
<line x1="384.00" y1="405.72" x2="386.50" y2="405.72" stroke="#231f20" stroke-width="1.35"/>
<line x1="384.00" y1="401.37" x2="386.50" y2="401.37" stroke="#231f20" stroke-width="1.35"/>
<line x1="384.00" y1="397.01" x2="386.50" y2="397.01" stroke="#231f20" stroke-width="1.35"/>
<line x1="382.30" y1="392.65" x2="386.50" y2="392.65" stroke="#231f20" stroke-width="1.35"/>
<text x="381.30" y="395.25" text-anchor="end" font-size="7.4">10000</text>
<line x1="384.00" y1="388.29" x2="386.50" y2="388.29" stroke="#231f20" stroke-width="1.35"/>
<line x1="384.00" y1="383.94" x2="386.50" y2="383.94" stroke="#231f20" stroke-width="1.35"/>
<line x1="384.00" y1="379.58" x2="386.50" y2="379.58" stroke="#231f20" stroke-width="1.35"/>
<line x1="384.00" y1="375.22" x2="386.50" y2="375.22" stroke="#231f20" stroke-width="1.35"/>
<line x1="384.00" y1="370.86" x2="386.50" y2="370.86" stroke="#231f20" stroke-width="1.35"/>
<line x1="384.00" y1="366.50" x2="386.50" y2="366.50" stroke="#231f20" stroke-width="1.35"/>
<line x1="384.00" y1="362.15" x2="386.50" y2="362.15" stroke="#231f20" stroke-width="1.35"/>
<line x1="384.00" y1="357.79" x2="386.50" y2="357.79" stroke="#231f20" stroke-width="1.35"/>
<line x1="384.00" y1="353.43" x2="386.50" y2="353.43" stroke="#231f20" stroke-width="1.35"/>
<line x1="382.30" y1="349.08" x2="386.50" y2="349.08" stroke="#231f20" stroke-width="1.35"/>
<text x="381.30" y="351.68" text-anchor="end" font-size="7.4">15000</text>
<line x1="384.00" y1="344.72" x2="386.50" y2="344.72" stroke="#231f20" stroke-width="1.35"/>
<line x1="384.00" y1="340.36" x2="386.50" y2="340.36" stroke="#231f20" stroke-width="1.35"/>
<line x1="384.00" y1="336.00" x2="386.50" y2="336.00" stroke="#231f20" stroke-width="1.35"/>
<line x1="384.00" y1="331.64" x2="386.50" y2="331.64" stroke="#231f20" stroke-width="1.35"/>
<line x1="384.00" y1="327.29" x2="386.50" y2="327.29" stroke="#231f20" stroke-width="1.35"/>
<line x1="384.00" y1="322.93" x2="386.50" y2="322.93" stroke="#231f20" stroke-width="1.35"/>
<line x1="384.00" y1="318.57" x2="386.50" y2="318.57" stroke="#231f20" stroke-width="1.35"/>
<line x1="384.00" y1="314.22" x2="386.50" y2="314.22" stroke="#231f20" stroke-width="1.35"/>
<line x1="384.00" y1="309.86" x2="386.50" y2="309.86" stroke="#231f20" stroke-width="1.35"/>
<line x1="382.30" y1="305.50" x2="386.50" y2="305.50" stroke="#231f20" stroke-width="1.35"/>
<text x="381.30" y="308.10" text-anchor="end" font-size="7.4">20000</text>
<line x1="386.50" y1="479.80" x2="386.50" y2="483.80" stroke="#231f20" stroke-width="1.35"/>
<text x="386.50" y="491.80" text-anchor="middle" font-size="7.4">0</text>
<line x1="411.04" y1="479.80" x2="411.04" y2="483.80" stroke="#231f20" stroke-width="1.35"/>
<text x="411.04" y="491.80" text-anchor="middle" font-size="7.4">2</text>
<line x1="435.58" y1="479.80" x2="435.58" y2="483.80" stroke="#231f20" stroke-width="1.35"/>
<text x="435.58" y="491.80" text-anchor="middle" font-size="7.4">4</text>
<line x1="460.12" y1="479.80" x2="460.12" y2="483.80" stroke="#231f20" stroke-width="1.35"/>
<text x="460.12" y="491.80" text-anchor="middle" font-size="7.4">6</text>
<line x1="484.67" y1="479.80" x2="484.67" y2="483.80" stroke="#231f20" stroke-width="1.35"/>
<text x="484.67" y="491.80" text-anchor="middle" font-size="7.4">8</text>
<line x1="509.21" y1="479.80" x2="509.21" y2="483.80" stroke="#231f20" stroke-width="1.35"/>
<text x="509.21" y="491.80" text-anchor="middle" font-size="7.4">10</text>
<line x1="533.75" y1="479.80" x2="533.75" y2="483.80" stroke="#231f20" stroke-width="1.35"/>
<text x="533.75" y="491.80" text-anchor="middle" font-size="7.4">12</text>
<line x1="558.29" y1="479.80" x2="558.29" y2="483.80" stroke="#231f20" stroke-width="1.35"/>
<text x="558.29" y="491.80" text-anchor="middle" font-size="7.4">14</text>
<line x1="582.83" y1="479.80" x2="582.83" y2="483.80" stroke="#231f20" stroke-width="1.35"/>
<text x="582.83" y="491.80" text-anchor="middle" font-size="7.4">16</text>
<line x1="607.38" y1="479.80" x2="607.38" y2="483.80" stroke="#231f20" stroke-width="1.35"/>
<text x="607.38" y="491.80" text-anchor="middle" font-size="7.4">18</text>
<line x1="631.92" y1="479.80" x2="631.92" y2="483.80" stroke="#231f20" stroke-width="1.35"/>
<text x="631.92" y="491.80" text-anchor="middle" font-size="7.4">20</text>
<line x1="656.46" y1="479.80" x2="656.46" y2="483.80" stroke="#231f20" stroke-width="1.35"/>
<text x="656.46" y="491.80" text-anchor="middle" font-size="7.4">22</text>
<line x1="681.00" y1="479.80" x2="681.00" y2="483.80" stroke="#231f20" stroke-width="1.35"/>
<text x="681.00" y="491.80" text-anchor="middle" font-size="7.4">24</text>
<line x1="387.52" y1="474.57" x2="387.52" y2="478.06" stroke="#1d2d66" stroke-width="1.1"/>
<line x1="386.22" y1="474.57" x2="388.82" y2="474.57" stroke="#1d2d66" stroke-width="1.2"/>
<line x1="386.22" y1="478.06" x2="388.82" y2="478.06" stroke="#1d2d66" stroke-width="1.2"/>
<line x1="388.55" y1="471.09" x2="388.55" y2="476.31" stroke="#1d2d66" stroke-width="1.1"/>
<line x1="387.25" y1="471.09" x2="389.85" y2="471.09" stroke="#1d2d66" stroke-width="1.2"/>
<line x1="387.25" y1="476.31" x2="389.85" y2="476.31" stroke="#1d2d66" stroke-width="1.2"/>
<line x1="389.57" y1="468.47" x2="389.57" y2="475.44" stroke="#1d2d66" stroke-width="1.1"/>
<line x1="388.27" y1="468.47" x2="390.87" y2="468.47" stroke="#1d2d66" stroke-width="1.2"/>
<line x1="388.27" y1="475.44" x2="390.87" y2="475.44" stroke="#1d2d66" stroke-width="1.2"/>
<line x1="390.55" y1="467.60" x2="390.55" y2="474.57" stroke="#1d2d66" stroke-width="1.1"/>
<line x1="389.25" y1="467.60" x2="391.85" y2="467.60" stroke="#1d2d66" stroke-width="1.2"/>
<line x1="389.25" y1="474.57" x2="391.85" y2="474.57" stroke="#1d2d66" stroke-width="1.2"/>
<line x1="392.64" y1="464.36" x2="392.64" y2="475.98" stroke="#1d2d66" stroke-width="1.1"/>
<line x1="391.34" y1="464.36" x2="393.94" y2="464.36" stroke="#1d2d66" stroke-width="1.2"/>
<line x1="391.34" y1="475.98" x2="393.94" y2="475.98" stroke="#1d2d66" stroke-width="1.2"/>
<line x1="395.70" y1="461.46" x2="395.70" y2="476.80" stroke="#1d2d66" stroke-width="1.1"/>
<line x1="394.40" y1="461.46" x2="397.00" y2="461.46" stroke="#1d2d66" stroke-width="1.2"/>
<line x1="394.40" y1="476.80" x2="397.00" y2="476.80" stroke="#1d2d66" stroke-width="1.2"/>
<line x1="398.77" y1="456.50" x2="398.77" y2="477.60" stroke="#1d2d66" stroke-width="1.1"/>
<line x1="397.47" y1="456.50" x2="400.07" y2="456.50" stroke="#1d2d66" stroke-width="1.2"/>
<line x1="397.47" y1="477.60" x2="400.07" y2="477.60" stroke="#1d2d66" stroke-width="1.2"/>
<line x1="401.84" y1="457.59" x2="401.84" y2="474.94" stroke="#1d2d66" stroke-width="1.1"/>
<line x1="400.54" y1="457.59" x2="403.14" y2="457.59" stroke="#1d2d66" stroke-width="1.2"/>
<line x1="400.54" y1="474.94" x2="403.14" y2="474.94" stroke="#1d2d66" stroke-width="1.2"/>
<line x1="404.91" y1="455.02" x2="404.91" y2="474.51" stroke="#1d2d66" stroke-width="1.1"/>
<line x1="403.61" y1="455.02" x2="406.21" y2="455.02" stroke="#1d2d66" stroke-width="1.2"/>
<line x1="403.61" y1="474.51" x2="406.21" y2="474.51" stroke="#1d2d66" stroke-width="1.2"/>
<line x1="407.97" y1="451.58" x2="407.97" y2="475.98" stroke="#1d2d66" stroke-width="1.1"/>
<line x1="406.67" y1="451.58" x2="409.27" y2="451.58" stroke="#1d2d66" stroke-width="1.2"/>
<line x1="406.67" y1="475.98" x2="409.27" y2="475.98" stroke="#1d2d66" stroke-width="1.2"/>
<line x1="411.04" y1="449.70" x2="411.04" y2="476.37" stroke="#1d2d66" stroke-width="1.1"/>
<line x1="409.74" y1="449.70" x2="412.34" y2="449.70" stroke="#1d2d66" stroke-width="1.2"/>
<line x1="409.74" y1="476.37" x2="412.34" y2="476.37" stroke="#1d2d66" stroke-width="1.2"/>
<line x1="417.18" y1="458.22" x2="417.18" y2="473.39" stroke="#1d2d66" stroke-width="1.1"/>
<line x1="415.88" y1="458.22" x2="418.48" y2="458.22" stroke="#1d2d66" stroke-width="1.2"/>
<line x1="415.88" y1="473.39" x2="418.48" y2="473.39" stroke="#1d2d66" stroke-width="1.2"/>
<line x1="423.31" y1="460.92" x2="423.31" y2="473.12" stroke="#1d2d66" stroke-width="1.1"/>
<line x1="422.01" y1="460.92" x2="424.61" y2="460.92" stroke="#1d2d66" stroke-width="1.2"/>
<line x1="422.01" y1="473.12" x2="424.61" y2="473.12" stroke="#1d2d66" stroke-width="1.2"/>
<line x1="429.45" y1="456.08" x2="429.45" y2="475.08" stroke="#1d2d66" stroke-width="1.1"/>
<line x1="428.15" y1="456.08" x2="430.75" y2="456.08" stroke="#1d2d66" stroke-width="1.2"/>
<line x1="428.15" y1="475.08" x2="430.75" y2="475.08" stroke="#1d2d66" stroke-width="1.2"/>
<line x1="435.58" y1="460.94" x2="435.58" y2="474.71" stroke="#1d2d66" stroke-width="1.1"/>
<line x1="434.28" y1="460.94" x2="436.88" y2="460.94" stroke="#1d2d66" stroke-width="1.2"/>
<line x1="434.28" y1="474.71" x2="436.88" y2="474.71" stroke="#1d2d66" stroke-width="1.2"/>
<line x1="447.85" y1="451.76" x2="447.85" y2="474.76" stroke="#1d2d66" stroke-width="1.1"/>
<line x1="446.55" y1="451.76" x2="449.15" y2="451.76" stroke="#1d2d66" stroke-width="1.2"/>
<line x1="446.55" y1="474.76" x2="449.15" y2="474.76" stroke="#1d2d66" stroke-width="1.2"/>
<line x1="460.12" y1="463.58" x2="460.12" y2="474.04" stroke="#1d2d66" stroke-width="1.1"/>
<line x1="458.82" y1="463.58" x2="461.43" y2="463.58" stroke="#1d2d66" stroke-width="1.2"/>
<line x1="458.82" y1="474.04" x2="461.43" y2="474.04" stroke="#1d2d66" stroke-width="1.2"/>
<line x1="484.67" y1="471.58" x2="484.67" y2="475.07" stroke="#1d2d66" stroke-width="1.1"/>
<line x1="483.37" y1="471.58" x2="485.97" y2="471.58" stroke="#1d2d66" stroke-width="1.2"/>
<line x1="483.37" y1="475.07" x2="485.97" y2="475.07" stroke="#1d2d66" stroke-width="1.2"/>
<line x1="533.75" y1="473.79" x2="533.75" y2="476.40" stroke="#1d2d66" stroke-width="1.1"/>
<line x1="532.45" y1="473.79" x2="535.05" y2="473.79" stroke="#1d2d66" stroke-width="1.2"/>
<line x1="532.45" y1="476.40" x2="535.05" y2="476.40" stroke="#1d2d66" stroke-width="1.2"/>
<line x1="681.00" y1="477.80" x2="681.00" y2="479.19" stroke="#1d2d66" stroke-width="1.1"/>
<line x1="679.70" y1="477.80" x2="682.30" y2="477.80" stroke="#1d2d66" stroke-width="1.2"/>
<line x1="679.70" y1="479.19" x2="682.30" y2="479.19" stroke="#1d2d66" stroke-width="1.2"/>
<polyline points="386.50,479.80 387.52,476.31 388.55,473.70 389.57,471.96 390.55,471.09 392.64,470.17 395.70,469.13 398.77,467.05 401.84,466.27 404.91,464.77 407.97,463.78 411.04,463.03 417.18,465.80 423.31,467.02 429.45,465.58 435.58,467.83 447.85,463.26 460.12,468.81 484.67,473.32 533.75,475.09 681.00,478.49" fill="none" stroke="#1d2d66" stroke-width="1.6" stroke-linejoin="round"/>
<path d="M386.50,478.54L387.38,479.80L386.50,481.06L385.62,479.80Z" fill="#1d2d66"/>
<path d="M387.52,475.05L388.40,476.31L387.52,477.58L386.64,476.31Z" fill="#1d2d66"/>
<path d="M388.55,472.43L389.43,473.70L388.55,474.96L387.67,473.70Z" fill="#1d2d66"/>
<path d="M389.57,470.69L390.45,471.96L389.57,473.22L388.69,471.96Z" fill="#1d2d66"/>
<path d="M390.55,469.82L391.43,471.09L390.55,472.35L389.67,471.09Z" fill="#1d2d66"/>
<path d="M392.64,468.90L393.52,470.17L392.64,471.43L391.76,470.17Z" fill="#1d2d66"/>
<path d="M395.70,467.87L396.58,469.13L395.70,470.40L394.82,469.13Z" fill="#1d2d66"/>
<path d="M398.77,465.78L399.65,467.05L398.77,468.31L397.89,467.05Z" fill="#1d2d66"/>
<path d="M401.84,465.00L402.72,466.27L401.84,467.53L400.96,466.27Z" fill="#1d2d66"/>
<path d="M404.91,463.50L405.79,464.77L404.91,466.03L404.03,464.77Z" fill="#1d2d66"/>
<path d="M407.97,462.52L408.85,463.78L407.97,465.05L407.09,463.78Z" fill="#1d2d66"/>
<path d="M411.04,461.77L411.92,463.03L411.04,464.30L410.16,463.03Z" fill="#1d2d66"/>
<path d="M417.18,464.54L418.06,465.80L417.18,467.07L416.30,465.80Z" fill="#1d2d66"/>
<path d="M423.31,465.76L424.19,467.02L423.31,468.29L422.43,467.02Z" fill="#1d2d66"/>
<path d="M429.45,464.31L430.33,465.58L429.45,466.84L428.57,465.58Z" fill="#1d2d66"/>
<path d="M435.58,466.56L436.46,467.83L435.58,469.09L434.70,467.83Z" fill="#1d2d66"/>
<path d="M447.85,461.99L448.73,463.26L447.85,464.52L446.97,463.26Z" fill="#1d2d66"/>
<path d="M460.12,467.55L461.00,468.81L460.12,470.08L459.25,468.81Z" fill="#1d2d66"/>
<path d="M484.67,472.06L485.55,473.32L484.67,474.59L483.79,473.32Z" fill="#1d2d66"/>
<path d="M533.75,473.83L534.63,475.09L533.75,476.36L532.87,475.09Z" fill="#1d2d66"/>
<path d="M681.00,477.23L681.88,478.49L681.00,479.76L680.12,478.49Z" fill="#1d2d66"/>
<line x1="387.52" y1="452.78" x2="387.52" y2="464.98" stroke="#9c1c22" stroke-width="1.1"/>
<line x1="386.22" y1="452.78" x2="388.82" y2="452.78" stroke="#9c1c22" stroke-width="1.2"/>
<line x1="386.22" y1="464.98" x2="388.82" y2="464.98" stroke="#9c1c22" stroke-width="1.2"/>
<line x1="388.55" y1="427.51" x2="388.55" y2="450.17" stroke="#9c1c22" stroke-width="1.1"/>
<line x1="387.25" y1="427.51" x2="389.85" y2="427.51" stroke="#9c1c22" stroke-width="1.2"/>
<line x1="387.25" y1="450.17" x2="389.85" y2="450.17" stroke="#9c1c22" stroke-width="1.2"/>
<line x1="389.57" y1="400.14" x2="389.57" y2="432.91" stroke="#9c1c22" stroke-width="1.1"/>
<line x1="388.27" y1="400.14" x2="390.87" y2="400.14" stroke="#9c1c22" stroke-width="1.2"/>
<line x1="388.27" y1="432.91" x2="390.87" y2="432.91" stroke="#9c1c22" stroke-width="1.2"/>
<line x1="390.55" y1="377.22" x2="390.55" y2="433.00" stroke="#9c1c22" stroke-width="1.1"/>
<line x1="389.25" y1="377.22" x2="391.85" y2="377.22" stroke="#9c1c22" stroke-width="1.2"/>
<line x1="389.25" y1="433.00" x2="391.85" y2="433.00" stroke="#9c1c22" stroke-width="1.2"/>
<line x1="392.64" y1="339.20" x2="392.64" y2="406.31" stroke="#9c1c22" stroke-width="1.1"/>
<line x1="391.34" y1="339.20" x2="393.94" y2="339.20" stroke="#9c1c22" stroke-width="1.2"/>
<line x1="391.34" y1="406.31" x2="393.94" y2="406.31" stroke="#9c1c22" stroke-width="1.2"/>
<line x1="395.70" y1="311.96" x2="395.70" y2="381.50" stroke="#9c1c22" stroke-width="1.1"/>
<line x1="394.40" y1="311.96" x2="397.00" y2="311.96" stroke="#9c1c22" stroke-width="1.2"/>
<line x1="394.40" y1="381.50" x2="397.00" y2="381.50" stroke="#9c1c22" stroke-width="1.2"/>
<line x1="398.77" y1="318.76" x2="398.77" y2="396.33" stroke="#9c1c22" stroke-width="1.1"/>
<line x1="397.47" y1="318.76" x2="400.07" y2="318.76" stroke="#9c1c22" stroke-width="1.2"/>
<line x1="397.47" y1="396.33" x2="400.07" y2="396.33" stroke="#9c1c22" stroke-width="1.2"/>
<line x1="401.84" y1="350.99" x2="401.84" y2="432.91" stroke="#9c1c22" stroke-width="1.1"/>
<line x1="400.54" y1="350.99" x2="403.14" y2="350.99" stroke="#9c1c22" stroke-width="1.2"/>
<line x1="400.54" y1="432.91" x2="403.14" y2="432.91" stroke="#9c1c22" stroke-width="1.2"/>
<line x1="404.91" y1="393.59" x2="404.91" y2="437.51" stroke="#9c1c22" stroke-width="1.1"/>
<line x1="403.61" y1="393.59" x2="406.21" y2="393.59" stroke="#9c1c22" stroke-width="1.2"/>
<line x1="403.61" y1="437.51" x2="406.21" y2="437.51" stroke="#9c1c22" stroke-width="1.2"/>
<line x1="407.97" y1="409.98" x2="407.97" y2="457.91" stroke="#9c1c22" stroke-width="1.1"/>
<line x1="406.67" y1="409.98" x2="409.27" y2="409.98" stroke="#9c1c22" stroke-width="1.2"/>
<line x1="406.67" y1="457.91" x2="409.27" y2="457.91" stroke="#9c1c22" stroke-width="1.2"/>
<line x1="411.04" y1="425.79" x2="411.04" y2="461.18" stroke="#9c1c22" stroke-width="1.1"/>
<line x1="409.74" y1="425.79" x2="412.34" y2="425.79" stroke="#9c1c22" stroke-width="1.2"/>
<line x1="409.74" y1="461.18" x2="412.34" y2="461.18" stroke="#9c1c22" stroke-width="1.2"/>
<line x1="417.18" y1="453.52" x2="417.18" y2="466.87" stroke="#9c1c22" stroke-width="1.1"/>
<line x1="415.88" y1="453.52" x2="418.48" y2="453.52" stroke="#9c1c22" stroke-width="1.2"/>
<line x1="415.88" y1="466.87" x2="418.48" y2="466.87" stroke="#9c1c22" stroke-width="1.2"/>
<line x1="423.31" y1="461.79" x2="423.31" y2="471.21" stroke="#9c1c22" stroke-width="1.1"/>
<line x1="422.01" y1="461.79" x2="424.61" y2="461.79" stroke="#9c1c22" stroke-width="1.2"/>
<line x1="422.01" y1="471.21" x2="424.61" y2="471.21" stroke="#9c1c22" stroke-width="1.2"/>
<line x1="429.45" y1="466.36" x2="429.45" y2="474.38" stroke="#9c1c22" stroke-width="1.1"/>
<line x1="428.15" y1="466.36" x2="430.75" y2="466.36" stroke="#9c1c22" stroke-width="1.2"/>
<line x1="428.15" y1="474.38" x2="430.75" y2="474.38" stroke="#9c1c22" stroke-width="1.2"/>
<line x1="435.58" y1="469.34" x2="435.58" y2="475.44" stroke="#9c1c22" stroke-width="1.1"/>
<line x1="434.28" y1="469.34" x2="436.88" y2="469.34" stroke="#9c1c22" stroke-width="1.2"/>
<line x1="434.28" y1="475.44" x2="436.88" y2="475.44" stroke="#9c1c22" stroke-width="1.2"/>
<line x1="447.85" y1="470.62" x2="447.85" y2="476.72" stroke="#9c1c22" stroke-width="1.1"/>
<line x1="446.55" y1="470.62" x2="449.15" y2="470.62" stroke="#9c1c22" stroke-width="1.2"/>
<line x1="446.55" y1="476.72" x2="449.15" y2="476.72" stroke="#9c1c22" stroke-width="1.2"/>
<line x1="460.12" y1="471.29" x2="460.12" y2="477.91" stroke="#9c1c22" stroke-width="1.1"/>
<line x1="458.82" y1="471.29" x2="461.43" y2="471.29" stroke="#9c1c22" stroke-width="1.2"/>
<line x1="458.82" y1="477.91" x2="461.43" y2="477.91" stroke="#9c1c22" stroke-width="1.2"/>
<line x1="484.67" y1="473.32" x2="484.67" y2="476.80" stroke="#9c1c22" stroke-width="1.1"/>
<line x1="483.37" y1="473.32" x2="485.97" y2="473.32" stroke="#9c1c22" stroke-width="1.2"/>
<line x1="483.37" y1="476.80" x2="485.97" y2="476.80" stroke="#9c1c22" stroke-width="1.2"/>
<line x1="533.75" y1="473.34" x2="533.75" y2="477.35" stroke="#9c1c22" stroke-width="1.1"/>
<line x1="532.45" y1="473.34" x2="535.05" y2="473.34" stroke="#9c1c22" stroke-width="1.2"/>
<line x1="532.45" y1="477.35" x2="535.05" y2="477.35" stroke="#9c1c22" stroke-width="1.2"/>
<line x1="681.00" y1="477.19" x2="681.00" y2="478.93" stroke="#9c1c22" stroke-width="1.1"/>
<line x1="679.70" y1="477.19" x2="682.30" y2="477.19" stroke="#9c1c22" stroke-width="1.2"/>
<line x1="679.70" y1="478.93" x2="682.30" y2="478.93" stroke="#9c1c22" stroke-width="1.2"/>
<polyline points="386.50,479.80 387.52,458.88 388.55,438.84 389.57,416.53 390.55,405.11 392.64,372.75 395.70,346.73 398.77,357.55 401.84,391.95 404.91,415.55 407.97,433.94 411.04,443.48 417.18,460.19 423.31,466.50 429.45,470.37 435.58,472.39 447.85,473.67 460.12,474.60 484.67,475.06 533.75,475.35 681.00,478.06" fill="none" stroke="#9c1c22" stroke-width="1.6" stroke-linejoin="round"/>
<path d="M386.50,478.54L387.38,479.80L386.50,481.06L385.62,479.80Z" fill="#9c1c22"/>
<path d="M387.52,457.62L388.40,458.88L387.52,460.15L386.64,458.88Z" fill="#9c1c22"/>
<path d="M388.55,437.57L389.43,438.84L388.55,440.10L387.67,438.84Z" fill="#9c1c22"/>
<path d="M389.57,415.26L390.45,416.53L389.57,417.79L388.69,416.53Z" fill="#9c1c22"/>
<path d="M390.55,403.85L391.43,405.11L390.55,406.38L389.67,405.11Z" fill="#9c1c22"/>
<path d="M392.64,371.49L393.52,372.75L392.64,374.02L391.76,372.75Z" fill="#9c1c22"/>
<path d="M395.70,345.47L396.58,346.73L395.70,348.00L394.82,346.73Z" fill="#9c1c22"/>
<path d="M398.77,356.28L399.65,357.55L398.77,358.81L397.89,357.55Z" fill="#9c1c22"/>
<path d="M401.84,390.69L402.72,391.95L401.84,393.22L400.96,391.95Z" fill="#9c1c22"/>
<path d="M404.91,414.29L405.79,415.55L404.91,416.82L404.03,415.55Z" fill="#9c1c22"/>
<path d="M407.97,432.68L408.85,433.94L407.97,435.21L407.09,433.94Z" fill="#9c1c22"/>
<path d="M411.04,442.22L411.92,443.48L411.04,444.75L410.16,443.48Z" fill="#9c1c22"/>
<path d="M417.18,458.93L418.06,460.19L417.18,461.46L416.30,460.19Z" fill="#9c1c22"/>
<path d="M423.31,465.24L424.19,466.50L423.31,467.77L422.43,466.50Z" fill="#9c1c22"/>
<path d="M429.45,469.11L430.33,470.37L429.45,471.64L428.57,470.37Z" fill="#9c1c22"/>
<path d="M435.58,471.13L436.46,472.39L435.58,473.66L434.70,472.39Z" fill="#9c1c22"/>
<path d="M447.85,472.41L448.73,473.67L447.85,474.94L446.97,473.67Z" fill="#9c1c22"/>
<path d="M460.12,473.33L461.00,474.60L460.12,475.86L459.25,474.60Z" fill="#9c1c22"/>
<path d="M484.67,473.79L485.55,475.06L484.67,476.32L483.79,475.06Z" fill="#9c1c22"/>
<path d="M533.75,474.08L534.63,475.35L533.75,476.61L532.87,475.35Z" fill="#9c1c22"/>
<path d="M681.00,476.79L681.88,478.06L681.00,479.32L680.12,478.06Z" fill="#9c1c22"/>
<line x1="606.2" y1="330.8" x2="617.2" y2="330.8" stroke="#9c1c22" stroke-width="1.6"/>
<path d="M611.70,329.54L612.58,330.80L611.70,332.06L610.82,330.80Z" fill="#9c1c22"/>
<text x="623.0" y="333.9" font-size="8.6">T1</text>
<line x1="606.2" y1="343.9" x2="617.2" y2="343.9" stroke="#1d2d66" stroke-width="1.6"/>
<path d="M611.70,342.63L612.58,343.90L611.70,345.16L610.82,343.90Z" fill="#1d2d66"/>
<text x="623.0" y="346.9" font-size="8.6">T2</text>
<text x="458.2" y="287.5" font-size="14.5">Resveratrol disulfate</text>
<text x="362.0" y="277.0" font-size="14.5">D</text>
<text x="504.6" y="505.8" font-size="8.2">Time(h)</text>
<text transform="translate(353.0,390.0) rotate(-90)" text-anchor="middle" font-size="8.4">Concentration(ng/mL)</text>
<line x1="115.50" y1="586.65" x2="115.50" y2="890.55" stroke="#231f20" stroke-width="2.3"/>
<line x1="114.35" y1="889.40" x2="626.05" y2="889.40" stroke="#231f20" stroke-width="2.3"/>
<line x1="108.30" y1="889.40" x2="115.50" y2="889.40" stroke="#231f20" stroke-width="2.3"/>
<text x="105.70" y="893.90" text-anchor="end" font-size="12.8">0</text>
<line x1="111.10" y1="881.86" x2="115.50" y2="881.86" stroke="#231f20" stroke-width="2.3"/>
<line x1="111.10" y1="874.32" x2="115.50" y2="874.32" stroke="#231f20" stroke-width="2.3"/>
<line x1="111.10" y1="866.78" x2="115.50" y2="866.78" stroke="#231f20" stroke-width="2.3"/>
<line x1="111.10" y1="859.24" x2="115.50" y2="859.24" stroke="#231f20" stroke-width="2.3"/>
<line x1="111.10" y1="851.70" x2="115.50" y2="851.70" stroke="#231f20" stroke-width="2.3"/>
<line x1="111.10" y1="844.16" x2="115.50" y2="844.16" stroke="#231f20" stroke-width="2.3"/>
<line x1="111.10" y1="836.62" x2="115.50" y2="836.62" stroke="#231f20" stroke-width="2.3"/>
<line x1="111.10" y1="829.08" x2="115.50" y2="829.08" stroke="#231f20" stroke-width="2.3"/>
<line x1="111.10" y1="821.54" x2="115.50" y2="821.54" stroke="#231f20" stroke-width="2.3"/>
<line x1="108.30" y1="814.00" x2="115.50" y2="814.00" stroke="#231f20" stroke-width="2.3"/>
<text x="105.70" y="818.50" text-anchor="end" font-size="12.8">5000</text>
<line x1="111.10" y1="806.46" x2="115.50" y2="806.46" stroke="#231f20" stroke-width="2.3"/>
<line x1="111.10" y1="798.92" x2="115.50" y2="798.92" stroke="#231f20" stroke-width="2.3"/>
<line x1="111.10" y1="791.38" x2="115.50" y2="791.38" stroke="#231f20" stroke-width="2.3"/>
<line x1="111.10" y1="783.84" x2="115.50" y2="783.84" stroke="#231f20" stroke-width="2.3"/>
<line x1="111.10" y1="776.30" x2="115.50" y2="776.30" stroke="#231f20" stroke-width="2.3"/>
<line x1="111.10" y1="768.76" x2="115.50" y2="768.76" stroke="#231f20" stroke-width="2.3"/>
<line x1="111.10" y1="761.22" x2="115.50" y2="761.22" stroke="#231f20" stroke-width="2.3"/>
<line x1="111.10" y1="753.68" x2="115.50" y2="753.68" stroke="#231f20" stroke-width="2.3"/>
<line x1="111.10" y1="746.14" x2="115.50" y2="746.14" stroke="#231f20" stroke-width="2.3"/>
<line x1="108.30" y1="738.60" x2="115.50" y2="738.60" stroke="#231f20" stroke-width="2.3"/>
<text x="105.70" y="743.10" text-anchor="end" font-size="12.8">10000</text>
<line x1="111.10" y1="731.06" x2="115.50" y2="731.06" stroke="#231f20" stroke-width="2.3"/>
<line x1="111.10" y1="723.52" x2="115.50" y2="723.52" stroke="#231f20" stroke-width="2.3"/>
<line x1="111.10" y1="715.98" x2="115.50" y2="715.98" stroke="#231f20" stroke-width="2.3"/>
<line x1="111.10" y1="708.44" x2="115.50" y2="708.44" stroke="#231f20" stroke-width="2.3"/>
<line x1="111.10" y1="700.90" x2="115.50" y2="700.90" stroke="#231f20" stroke-width="2.3"/>
<line x1="111.10" y1="693.36" x2="115.50" y2="693.36" stroke="#231f20" stroke-width="2.3"/>
<line x1="111.10" y1="685.82" x2="115.50" y2="685.82" stroke="#231f20" stroke-width="2.3"/>
<line x1="111.10" y1="678.28" x2="115.50" y2="678.28" stroke="#231f20" stroke-width="2.3"/>
<line x1="111.10" y1="670.74" x2="115.50" y2="670.74" stroke="#231f20" stroke-width="2.3"/>
<line x1="108.30" y1="663.20" x2="115.50" y2="663.20" stroke="#231f20" stroke-width="2.3"/>
<text x="105.70" y="667.70" text-anchor="end" font-size="12.8">15000</text>
<line x1="111.10" y1="655.66" x2="115.50" y2="655.66" stroke="#231f20" stroke-width="2.3"/>
<line x1="111.10" y1="648.12" x2="115.50" y2="648.12" stroke="#231f20" stroke-width="2.3"/>
<line x1="111.10" y1="640.58" x2="115.50" y2="640.58" stroke="#231f20" stroke-width="2.3"/>
<line x1="111.10" y1="633.04" x2="115.50" y2="633.04" stroke="#231f20" stroke-width="2.3"/>
<line x1="111.10" y1="625.50" x2="115.50" y2="625.50" stroke="#231f20" stroke-width="2.3"/>
<line x1="111.10" y1="617.96" x2="115.50" y2="617.96" stroke="#231f20" stroke-width="2.3"/>
<line x1="111.10" y1="610.42" x2="115.50" y2="610.42" stroke="#231f20" stroke-width="2.3"/>
<line x1="111.10" y1="602.88" x2="115.50" y2="602.88" stroke="#231f20" stroke-width="2.3"/>
<line x1="111.10" y1="595.34" x2="115.50" y2="595.34" stroke="#231f20" stroke-width="2.3"/>
<line x1="108.30" y1="587.80" x2="115.50" y2="587.80" stroke="#231f20" stroke-width="2.3"/>
<text x="105.70" y="592.30" text-anchor="end" font-size="12.8">20000</text>
<line x1="114.90" y1="889.40" x2="114.90" y2="895.90" stroke="#231f20" stroke-width="2.3"/>
<text x="114.90" y="911.00" text-anchor="middle" font-size="12.8">0</text>
<line x1="157.40" y1="889.40" x2="157.40" y2="895.90" stroke="#231f20" stroke-width="2.3"/>
<text x="157.40" y="911.00" text-anchor="middle" font-size="12.8">2</text>
<line x1="199.90" y1="889.40" x2="199.90" y2="895.90" stroke="#231f20" stroke-width="2.3"/>
<text x="199.90" y="911.00" text-anchor="middle" font-size="12.8">4</text>
<line x1="242.40" y1="889.40" x2="242.40" y2="895.90" stroke="#231f20" stroke-width="2.3"/>
<text x="242.40" y="911.00" text-anchor="middle" font-size="12.8">6</text>
<line x1="284.90" y1="889.40" x2="284.90" y2="895.90" stroke="#231f20" stroke-width="2.3"/>
<text x="284.90" y="911.00" text-anchor="middle" font-size="12.8">8</text>
<line x1="327.40" y1="889.40" x2="327.40" y2="895.90" stroke="#231f20" stroke-width="2.3"/>
<text x="327.40" y="911.00" text-anchor="middle" font-size="12.8">10</text>
<line x1="369.90" y1="889.40" x2="369.90" y2="895.90" stroke="#231f20" stroke-width="2.3"/>
<text x="369.90" y="911.00" text-anchor="middle" font-size="12.8">12</text>
<line x1="412.40" y1="889.40" x2="412.40" y2="895.90" stroke="#231f20" stroke-width="2.3"/>
<text x="412.40" y="911.00" text-anchor="middle" font-size="12.8">14</text>
<line x1="454.90" y1="889.40" x2="454.90" y2="895.90" stroke="#231f20" stroke-width="2.3"/>
<text x="454.90" y="911.00" text-anchor="middle" font-size="12.8">16</text>
<line x1="497.40" y1="889.40" x2="497.40" y2="895.90" stroke="#231f20" stroke-width="2.3"/>
<text x="497.40" y="911.00" text-anchor="middle" font-size="12.8">18</text>
<line x1="539.90" y1="889.40" x2="539.90" y2="895.90" stroke="#231f20" stroke-width="2.3"/>
<text x="539.90" y="911.00" text-anchor="middle" font-size="12.8">20</text>
<line x1="582.40" y1="889.40" x2="582.40" y2="895.90" stroke="#231f20" stroke-width="2.3"/>
<text x="582.40" y="911.00" text-anchor="middle" font-size="12.8">22</text>
<line x1="624.90" y1="889.40" x2="624.90" y2="895.90" stroke="#231f20" stroke-width="2.3"/>
<text x="624.90" y="911.00" text-anchor="middle" font-size="12.8">24</text>
<line x1="116.66" y1="880.35" x2="116.66" y2="886.38" stroke="#1d2d66" stroke-width="1.5"/>
<line x1="114.66" y1="880.35" x2="118.66" y2="880.35" stroke="#1d2d66" stroke-width="1.7"/>
<line x1="114.66" y1="886.38" x2="118.66" y2="886.38" stroke="#1d2d66" stroke-width="1.7"/>
<line x1="118.45" y1="874.32" x2="118.45" y2="883.37" stroke="#1d2d66" stroke-width="1.5"/>
<line x1="116.45" y1="874.32" x2="120.45" y2="874.32" stroke="#1d2d66" stroke-width="1.7"/>
<line x1="116.45" y1="883.37" x2="120.45" y2="883.37" stroke="#1d2d66" stroke-width="1.7"/>
<line x1="120.21" y1="869.80" x2="120.21" y2="881.86" stroke="#1d2d66" stroke-width="1.5"/>
<line x1="118.21" y1="869.80" x2="122.21" y2="869.80" stroke="#1d2d66" stroke-width="1.7"/>
<line x1="118.21" y1="881.86" x2="122.21" y2="881.86" stroke="#1d2d66" stroke-width="1.7"/>
<line x1="121.91" y1="868.29" x2="121.91" y2="880.35" stroke="#1d2d66" stroke-width="1.5"/>
<line x1="119.91" y1="868.29" x2="123.91" y2="868.29" stroke="#1d2d66" stroke-width="1.7"/>
<line x1="119.91" y1="880.35" x2="123.91" y2="880.35" stroke="#1d2d66" stroke-width="1.7"/>
<line x1="125.53" y1="862.68" x2="125.53" y2="882.79" stroke="#1d2d66" stroke-width="1.5"/>
<line x1="123.53" y1="862.68" x2="127.53" y2="862.68" stroke="#1d2d66" stroke-width="1.7"/>
<line x1="123.53" y1="882.79" x2="127.53" y2="882.79" stroke="#1d2d66" stroke-width="1.7"/>
<line x1="130.84" y1="857.67" x2="130.84" y2="884.21" stroke="#1d2d66" stroke-width="1.5"/>
<line x1="128.84" y1="857.67" x2="132.84" y2="857.67" stroke="#1d2d66" stroke-width="1.7"/>
<line x1="128.84" y1="884.21" x2="132.84" y2="884.21" stroke="#1d2d66" stroke-width="1.7"/>
<line x1="136.15" y1="849.08" x2="136.15" y2="885.60" stroke="#1d2d66" stroke-width="1.5"/>
<line x1="134.15" y1="849.08" x2="138.15" y2="849.08" stroke="#1d2d66" stroke-width="1.7"/>
<line x1="134.15" y1="885.60" x2="138.15" y2="885.60" stroke="#1d2d66" stroke-width="1.7"/>
<line x1="141.46" y1="850.98" x2="141.46" y2="880.99" stroke="#1d2d66" stroke-width="1.5"/>
<line x1="139.46" y1="850.98" x2="143.46" y2="850.98" stroke="#1d2d66" stroke-width="1.7"/>
<line x1="139.46" y1="880.99" x2="143.46" y2="880.99" stroke="#1d2d66" stroke-width="1.7"/>
<line x1="146.78" y1="846.53" x2="146.78" y2="880.25" stroke="#1d2d66" stroke-width="1.5"/>
<line x1="144.78" y1="846.53" x2="148.78" y2="846.53" stroke="#1d2d66" stroke-width="1.7"/>
<line x1="144.78" y1="880.25" x2="148.78" y2="880.25" stroke="#1d2d66" stroke-width="1.7"/>
<line x1="152.09" y1="840.57" x2="152.09" y2="882.79" stroke="#1d2d66" stroke-width="1.5"/>
<line x1="150.09" y1="840.57" x2="154.09" y2="840.57" stroke="#1d2d66" stroke-width="1.7"/>
<line x1="150.09" y1="882.79" x2="154.09" y2="882.79" stroke="#1d2d66" stroke-width="1.7"/>
<line x1="157.40" y1="837.31" x2="157.40" y2="883.46" stroke="#1d2d66" stroke-width="1.5"/>
<line x1="155.40" y1="837.31" x2="159.40" y2="837.31" stroke="#1d2d66" stroke-width="1.7"/>
<line x1="155.40" y1="883.46" x2="159.40" y2="883.46" stroke="#1d2d66" stroke-width="1.7"/>
<line x1="168.03" y1="852.06" x2="168.03" y2="878.30" stroke="#1d2d66" stroke-width="1.5"/>
<line x1="166.03" y1="852.06" x2="170.03" y2="852.06" stroke="#1d2d66" stroke-width="1.7"/>
<line x1="166.03" y1="878.30" x2="170.03" y2="878.30" stroke="#1d2d66" stroke-width="1.7"/>
<line x1="178.65" y1="856.74" x2="178.65" y2="877.85" stroke="#1d2d66" stroke-width="1.5"/>
<line x1="176.65" y1="856.74" x2="180.65" y2="856.74" stroke="#1d2d66" stroke-width="1.7"/>
<line x1="176.65" y1="877.85" x2="180.65" y2="877.85" stroke="#1d2d66" stroke-width="1.7"/>
<line x1="189.28" y1="848.35" x2="189.28" y2="881.23" stroke="#1d2d66" stroke-width="1.5"/>
<line x1="187.28" y1="848.35" x2="191.28" y2="848.35" stroke="#1d2d66" stroke-width="1.7"/>
<line x1="187.28" y1="881.23" x2="191.28" y2="881.23" stroke="#1d2d66" stroke-width="1.7"/>
<line x1="199.90" y1="856.77" x2="199.90" y2="880.59" stroke="#1d2d66" stroke-width="1.5"/>
<line x1="197.90" y1="856.77" x2="201.90" y2="856.77" stroke="#1d2d66" stroke-width="1.7"/>
<line x1="197.90" y1="880.59" x2="201.90" y2="880.59" stroke="#1d2d66" stroke-width="1.7"/>
<line x1="221.15" y1="840.87" x2="221.15" y2="880.68" stroke="#1d2d66" stroke-width="1.5"/>
<line x1="219.15" y1="840.87" x2="223.15" y2="840.87" stroke="#1d2d66" stroke-width="1.7"/>
<line x1="219.15" y1="880.68" x2="223.15" y2="880.68" stroke="#1d2d66" stroke-width="1.7"/>
<line x1="242.40" y1="861.34" x2="242.40" y2="879.43" stroke="#1d2d66" stroke-width="1.5"/>
<line x1="240.40" y1="861.34" x2="244.40" y2="861.34" stroke="#1d2d66" stroke-width="1.7"/>
<line x1="240.40" y1="879.43" x2="244.40" y2="879.43" stroke="#1d2d66" stroke-width="1.7"/>
<line x1="284.90" y1="875.18" x2="284.90" y2="881.21" stroke="#1d2d66" stroke-width="1.5"/>
<line x1="282.90" y1="875.18" x2="286.90" y2="875.18" stroke="#1d2d66" stroke-width="1.7"/>
<line x1="282.90" y1="881.21" x2="286.90" y2="881.21" stroke="#1d2d66" stroke-width="1.7"/>
<line x1="369.90" y1="878.99" x2="369.90" y2="883.52" stroke="#1d2d66" stroke-width="1.5"/>
<line x1="367.90" y1="878.99" x2="371.90" y2="878.99" stroke="#1d2d66" stroke-width="1.7"/>
<line x1="367.90" y1="883.52" x2="371.90" y2="883.52" stroke="#1d2d66" stroke-width="1.7"/>
<line x1="624.90" y1="885.93" x2="624.90" y2="888.34" stroke="#1d2d66" stroke-width="1.5"/>
<line x1="622.90" y1="885.93" x2="626.90" y2="885.93" stroke="#1d2d66" stroke-width="1.7"/>
<line x1="622.90" y1="888.34" x2="626.90" y2="888.34" stroke="#1d2d66" stroke-width="1.7"/>
<polyline points="114.90,889.40 116.66,883.37 118.45,878.84 120.21,875.83 121.91,874.32 125.53,872.74 130.84,870.94 136.15,867.34 141.46,865.98 146.78,863.39 152.09,861.68 157.40,860.39 168.03,865.18 178.65,867.29 189.28,864.79 199.90,868.68 221.15,860.78 242.40,870.38 284.90,878.20 369.90,881.26 624.90,887.14" fill="none" stroke="#1d2d66" stroke-width="2.6" stroke-linejoin="round"/>
<path d="M114.90,887.22L116.42,889.40L114.90,891.58L113.38,889.40Z" fill="#1d2d66"/>
<path d="M116.66,881.18L118.18,883.37L116.66,885.55L115.14,883.37Z" fill="#1d2d66"/>
<path d="M118.45,876.66L119.97,878.84L118.45,881.03L116.93,878.84Z" fill="#1d2d66"/>
<path d="M120.21,873.64L121.73,875.83L120.21,878.01L118.69,875.83Z" fill="#1d2d66"/>
<path d="M121.91,872.13L123.43,874.32L121.91,876.50L120.39,874.32Z" fill="#1d2d66"/>
<path d="M125.53,870.55L127.05,872.74L125.53,874.92L124.01,872.74Z" fill="#1d2d66"/>
<path d="M130.84,868.76L132.36,870.94L130.84,873.13L129.32,870.94Z" fill="#1d2d66"/>
<path d="M136.15,865.15L137.67,867.34L136.15,869.52L134.63,867.34Z" fill="#1d2d66"/>
<path d="M141.46,863.80L142.98,865.98L141.46,868.17L139.94,865.98Z" fill="#1d2d66"/>
<path d="M146.78,861.20L148.30,863.39L146.78,865.57L145.25,863.39Z" fill="#1d2d66"/>
<path d="M152.09,859.50L153.61,861.68L152.09,863.87L150.57,861.68Z" fill="#1d2d66"/>
<path d="M157.40,858.20L158.92,860.39L157.40,862.57L155.88,860.39Z" fill="#1d2d66"/>
<path d="M168.03,863.00L169.55,865.18L168.03,867.37L166.50,865.18Z" fill="#1d2d66"/>
<path d="M178.65,865.11L180.17,867.29L178.65,869.48L177.13,867.29Z" fill="#1d2d66"/>
<path d="M189.28,862.60L190.80,864.79L189.28,866.97L187.75,864.79Z" fill="#1d2d66"/>
<path d="M199.90,866.50L201.42,868.68L199.90,870.87L198.38,868.68Z" fill="#1d2d66"/>
<path d="M221.15,858.59L222.67,860.78L221.15,862.96L219.63,860.78Z" fill="#1d2d66"/>
<path d="M242.40,868.20L243.92,870.38L242.40,872.57L240.88,870.38Z" fill="#1d2d66"/>
<path d="M284.90,876.01L286.42,878.20L284.90,880.38L283.38,878.20Z" fill="#1d2d66"/>
<path d="M369.90,879.07L371.42,881.26L369.90,883.44L368.38,881.26Z" fill="#1d2d66"/>
<path d="M624.90,884.95L626.42,887.14L624.90,889.32L623.38,887.14Z" fill="#1d2d66"/>
<line x1="116.66" y1="842.65" x2="116.66" y2="863.76" stroke="#9c1c22" stroke-width="1.5"/>
<line x1="114.66" y1="842.65" x2="118.66" y2="842.65" stroke="#9c1c22" stroke-width="1.7"/>
<line x1="114.66" y1="863.76" x2="118.66" y2="863.76" stroke="#9c1c22" stroke-width="1.7"/>
<line x1="118.45" y1="798.92" x2="118.45" y2="838.13" stroke="#9c1c22" stroke-width="1.5"/>
<line x1="116.45" y1="798.92" x2="120.45" y2="798.92" stroke="#9c1c22" stroke-width="1.7"/>
<line x1="116.45" y1="838.13" x2="120.45" y2="838.13" stroke="#9c1c22" stroke-width="1.7"/>
<line x1="120.21" y1="751.57" x2="120.21" y2="808.27" stroke="#9c1c22" stroke-width="1.5"/>
<line x1="118.21" y1="751.57" x2="122.21" y2="751.57" stroke="#9c1c22" stroke-width="1.7"/>
<line x1="118.21" y1="808.27" x2="122.21" y2="808.27" stroke="#9c1c22" stroke-width="1.7"/>
<line x1="121.91" y1="711.91" x2="121.91" y2="808.42" stroke="#9c1c22" stroke-width="1.5"/>
<line x1="119.91" y1="711.91" x2="123.91" y2="711.91" stroke="#9c1c22" stroke-width="1.7"/>
<line x1="119.91" y1="808.42" x2="123.91" y2="808.42" stroke="#9c1c22" stroke-width="1.7"/>
<line x1="125.53" y1="646.11" x2="125.53" y2="762.23" stroke="#9c1c22" stroke-width="1.5"/>
<line x1="123.53" y1="646.11" x2="127.53" y2="646.11" stroke="#9c1c22" stroke-width="1.7"/>
<line x1="123.53" y1="762.23" x2="127.53" y2="762.23" stroke="#9c1c22" stroke-width="1.7"/>
<line x1="130.84" y1="598.97" x2="130.84" y2="719.31" stroke="#9c1c22" stroke-width="1.5"/>
<line x1="128.84" y1="598.97" x2="132.84" y2="598.97" stroke="#9c1c22" stroke-width="1.7"/>
<line x1="128.84" y1="719.31" x2="132.84" y2="719.31" stroke="#9c1c22" stroke-width="1.7"/>
<line x1="136.15" y1="610.75" x2="136.15" y2="744.96" stroke="#9c1c22" stroke-width="1.5"/>
<line x1="134.15" y1="610.75" x2="138.15" y2="610.75" stroke="#9c1c22" stroke-width="1.7"/>
<line x1="134.15" y1="744.96" x2="138.15" y2="744.96" stroke="#9c1c22" stroke-width="1.7"/>
<line x1="141.46" y1="666.52" x2="141.46" y2="808.27" stroke="#9c1c22" stroke-width="1.5"/>
<line x1="139.46" y1="666.52" x2="143.46" y2="666.52" stroke="#9c1c22" stroke-width="1.7"/>
<line x1="139.46" y1="808.27" x2="143.46" y2="808.27" stroke="#9c1c22" stroke-width="1.7"/>
<line x1="146.78" y1="740.23" x2="146.78" y2="816.23" stroke="#9c1c22" stroke-width="1.5"/>
<line x1="144.78" y1="740.23" x2="148.78" y2="740.23" stroke="#9c1c22" stroke-width="1.7"/>
<line x1="144.78" y1="816.23" x2="148.78" y2="816.23" stroke="#9c1c22" stroke-width="1.7"/>
<line x1="152.09" y1="768.58" x2="152.09" y2="851.52" stroke="#9c1c22" stroke-width="1.5"/>
<line x1="150.09" y1="768.58" x2="154.09" y2="768.58" stroke="#9c1c22" stroke-width="1.7"/>
<line x1="150.09" y1="851.52" x2="154.09" y2="851.52" stroke="#9c1c22" stroke-width="1.7"/>
<line x1="157.40" y1="795.95" x2="157.40" y2="857.17" stroke="#9c1c22" stroke-width="1.5"/>
<line x1="155.40" y1="795.95" x2="159.40" y2="795.95" stroke="#9c1c22" stroke-width="1.7"/>
<line x1="155.40" y1="857.17" x2="159.40" y2="857.17" stroke="#9c1c22" stroke-width="1.7"/>
<line x1="168.03" y1="843.92" x2="168.03" y2="867.02" stroke="#9c1c22" stroke-width="1.5"/>
<line x1="166.03" y1="843.92" x2="170.03" y2="843.92" stroke="#9c1c22" stroke-width="1.7"/>
<line x1="166.03" y1="867.02" x2="170.03" y2="867.02" stroke="#9c1c22" stroke-width="1.7"/>
<line x1="178.65" y1="858.24" x2="178.65" y2="874.53" stroke="#9c1c22" stroke-width="1.5"/>
<line x1="176.65" y1="858.24" x2="180.65" y2="858.24" stroke="#9c1c22" stroke-width="1.7"/>
<line x1="176.65" y1="874.53" x2="180.65" y2="874.53" stroke="#9c1c22" stroke-width="1.7"/>
<line x1="189.28" y1="866.15" x2="189.28" y2="880.02" stroke="#9c1c22" stroke-width="1.5"/>
<line x1="187.28" y1="866.15" x2="191.28" y2="866.15" stroke="#9c1c22" stroke-width="1.7"/>
<line x1="187.28" y1="880.02" x2="191.28" y2="880.02" stroke="#9c1c22" stroke-width="1.7"/>
<line x1="199.90" y1="871.30" x2="199.90" y2="881.86" stroke="#9c1c22" stroke-width="1.5"/>
<line x1="197.90" y1="871.30" x2="201.90" y2="871.30" stroke="#9c1c22" stroke-width="1.7"/>
<line x1="197.90" y1="881.86" x2="201.90" y2="881.86" stroke="#9c1c22" stroke-width="1.7"/>
<line x1="221.15" y1="873.52" x2="221.15" y2="884.08" stroke="#9c1c22" stroke-width="1.5"/>
<line x1="219.15" y1="873.52" x2="223.15" y2="873.52" stroke="#9c1c22" stroke-width="1.7"/>
<line x1="219.15" y1="884.08" x2="223.15" y2="884.08" stroke="#9c1c22" stroke-width="1.7"/>
<line x1="242.40" y1="874.67" x2="242.40" y2="886.13" stroke="#9c1c22" stroke-width="1.5"/>
<line x1="240.40" y1="874.67" x2="244.40" y2="874.67" stroke="#9c1c22" stroke-width="1.7"/>
<line x1="240.40" y1="886.13" x2="244.40" y2="886.13" stroke="#9c1c22" stroke-width="1.7"/>
<line x1="284.90" y1="878.18" x2="284.90" y2="884.21" stroke="#9c1c22" stroke-width="1.5"/>
<line x1="282.90" y1="878.18" x2="286.90" y2="878.18" stroke="#9c1c22" stroke-width="1.7"/>
<line x1="282.90" y1="884.21" x2="286.90" y2="884.21" stroke="#9c1c22" stroke-width="1.7"/>
<line x1="369.90" y1="878.23" x2="369.90" y2="885.16" stroke="#9c1c22" stroke-width="1.5"/>
<line x1="367.90" y1="878.23" x2="371.90" y2="878.23" stroke="#9c1c22" stroke-width="1.7"/>
<line x1="367.90" y1="885.16" x2="371.90" y2="885.16" stroke="#9c1c22" stroke-width="1.7"/>
<line x1="624.90" y1="884.88" x2="624.90" y2="887.89" stroke="#9c1c22" stroke-width="1.5"/>
<line x1="622.90" y1="884.88" x2="626.90" y2="884.88" stroke="#9c1c22" stroke-width="1.7"/>
<line x1="622.90" y1="887.89" x2="626.90" y2="887.89" stroke="#9c1c22" stroke-width="1.7"/>
<polyline points="114.90,889.40 116.66,853.21 118.45,818.52 120.21,779.92 121.91,760.16 125.53,704.17 130.84,659.14 136.15,677.86 141.46,737.39 146.78,778.23 152.09,810.05 157.40,826.56 168.03,855.47 178.65,866.39 189.28,873.08 199.90,876.58 221.15,878.80 242.40,880.40 284.90,881.20 369.90,881.69 624.90,886.38" fill="none" stroke="#9c1c22" stroke-width="2.6" stroke-linejoin="round"/>
<path d="M114.90,887.22L116.42,889.40L114.90,891.58L113.38,889.40Z" fill="#9c1c22"/>
<path d="M116.66,851.02L118.18,853.21L116.66,855.39L115.14,853.21Z" fill="#9c1c22"/>
<path d="M118.45,816.34L119.97,818.52L118.45,820.71L116.93,818.52Z" fill="#9c1c22"/>
<path d="M120.21,777.73L121.73,779.92L120.21,782.10L118.69,779.92Z" fill="#9c1c22"/>
<path d="M121.91,757.98L123.43,760.16L121.91,762.35L120.39,760.16Z" fill="#9c1c22"/>
<path d="M125.53,701.99L127.05,704.17L125.53,706.36L124.01,704.17Z" fill="#9c1c22"/>
<path d="M130.84,656.96L132.36,659.14L130.84,661.33L129.32,659.14Z" fill="#9c1c22"/>
<path d="M136.15,675.67L137.67,677.86L136.15,680.04L134.63,677.86Z" fill="#9c1c22"/>
<path d="M141.46,735.21L142.98,737.39L141.46,739.58L139.94,737.39Z" fill="#9c1c22"/>
<path d="M146.78,776.05L148.30,778.23L146.78,780.42L145.25,778.23Z" fill="#9c1c22"/>
<path d="M152.09,807.86L153.61,810.05L152.09,812.23L150.57,810.05Z" fill="#9c1c22"/>
<path d="M157.40,824.38L158.92,826.56L157.40,828.75L155.88,826.56Z" fill="#9c1c22"/>
<path d="M168.03,853.29L169.55,855.47L168.03,857.65L166.50,855.47Z" fill="#9c1c22"/>
<path d="M178.65,864.20L180.17,866.39L178.65,868.57L177.13,866.39Z" fill="#9c1c22"/>
<path d="M189.28,870.90L190.80,873.08L189.28,875.27L187.75,873.08Z" fill="#9c1c22"/>
<path d="M199.90,874.40L201.42,876.58L199.90,878.77L198.38,876.58Z" fill="#9c1c22"/>
<path d="M221.15,876.61L222.67,878.80L221.15,880.98L219.63,878.80Z" fill="#9c1c22"/>
<path d="M242.40,878.21L243.92,880.40L242.40,882.58L240.88,880.40Z" fill="#9c1c22"/>
<path d="M284.90,879.01L286.42,881.20L284.90,883.38L283.38,881.20Z" fill="#9c1c22"/>
<path d="M369.90,879.51L371.42,881.69L369.90,883.88L368.38,881.69Z" fill="#9c1c22"/>
<path d="M624.90,884.20L626.42,886.38L624.90,888.57L623.38,886.38Z" fill="#9c1c22"/>
<line x1="497.0" y1="631.4" x2="514.7" y2="631.4" stroke="#9c1c22" stroke-width="2.6"/>
<path d="M505.85,629.22L507.37,631.40L505.85,633.58L504.33,631.40Z" fill="#9c1c22"/>
<text x="525.0" y="636.1" font-size="13.6">T1</text>
<line x1="497.0" y1="654.7" x2="514.7" y2="654.7" stroke="#1d2d66" stroke-width="2.6"/>
<path d="M505.85,652.52L507.37,654.70L505.85,656.88L504.33,654.70Z" fill="#1d2d66"/>
<text x="525.0" y="659.3" font-size="13.6">T2</text>
<text x="292.4" y="575.0" font-size="14.5">Total Resveratrol</text>
<text x="13.8" y="543.6" font-size="14.5">E</text>
<text x="320.2" y="933.8" font-size="14.0">Time(h)</text>
<text transform="translate(58.4,735.4) rotate(-90)" text-anchor="middle" font-size="14.4">Concentration(ng/mL)</text>
</svg>
</body></html>
